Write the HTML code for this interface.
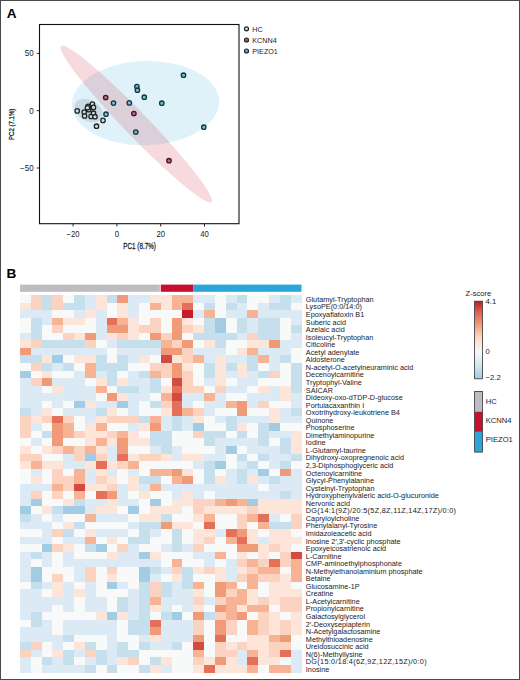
<!DOCTYPE html><html><head><meta charset="utf-8"><style>
html,body{margin:0;padding:0;background:#fff;}
body{width:520px;height:680px;overflow:hidden;position:relative;font-family:"Liberation Sans",sans-serif;}
#frame{position:absolute;left:0;top:0;width:520px;height:680px;box-sizing:border-box;border:1px solid #4a4a4a;}
svg{position:absolute;left:0;top:0;}
svg text{font-family:"Liberation Sans",sans-serif;fill:#1a1a1a;}
</style></head><body>
<svg width="520" height="680" viewBox="0 0 520 680">
<text x="6.8" y="18.1" style="font-size:13.6px;font-weight:bold;fill:#000">A</text>
<text x="6.5" y="278.4" style="font-size:13.6px;font-weight:bold;fill:#000">B</text>
<g>
<ellipse cx="145.6" cy="103.2" rx="73.6" ry="42.1" transform="rotate(-1.5 145.6 103.2)" fill="#2aa6dc" fill-opacity="0.15"/>
<ellipse cx="136.2" cy="124" rx="108.5" ry="12" transform="rotate(46.05 136.2 124)" fill="#c8102e" fill-opacity="0.155"/>
<ellipse cx="88.5" cy="110.5" rx="15" ry="10.5" transform="rotate(30 88.5 110.5)" fill="#6f7f84" fill-opacity="0.2"/>
<circle cx="77.2" cy="110.9" r="2.2" fill="#d8dade" stroke="#1f2327" stroke-width="1.3"/>
<circle cx="84.2" cy="112.1" r="2.2" fill="#d8dade" stroke="#1f2327" stroke-width="1.3"/>
<circle cx="84.6" cy="116" r="2.2" fill="#d8dade" stroke="#1f2327" stroke-width="1.3"/>
<circle cx="88.1" cy="106.3" r="2.2" fill="#d8dade" stroke="#1f2327" stroke-width="1.3"/>
<circle cx="88.7" cy="109.7" r="2.2" fill="#d8dade" stroke="#1f2327" stroke-width="1.3"/>
<circle cx="92.4" cy="104.1" r="2.2" fill="#d8dade" stroke="#1f2327" stroke-width="1.3"/>
<circle cx="93.5" cy="107.4" r="2.2" fill="#d8dade" stroke="#1f2327" stroke-width="1.3"/>
<circle cx="91.1" cy="116.4" r="2.2" fill="#d8dade" stroke="#1f2327" stroke-width="1.3"/>
<circle cx="93.5" cy="113.2" r="2.2" fill="#d8dade" stroke="#1f2327" stroke-width="1.3"/>
<circle cx="95" cy="116.7" r="2.2" fill="#d8dade" stroke="#1f2327" stroke-width="1.3"/>
<circle cx="103" cy="120.4" r="2.2" fill="#d8dade" stroke="#1f2327" stroke-width="1.3"/>
<circle cx="96.5" cy="126.2" r="2.2" fill="#d8dade" stroke="#1f2327" stroke-width="1.3"/>
<circle cx="87.5" cy="107.8" r="2.2" fill="#d8dade" stroke="#1f2327" stroke-width="1.3"/>
<circle cx="105.7" cy="97.5" r="2.2" fill="#c2687e" stroke="#3a1621" stroke-width="1.3"/>
<circle cx="133.9" cy="113.5" r="2.2" fill="#c2687e" stroke="#3a1621" stroke-width="1.3"/>
<circle cx="169.0" cy="160.7" r="2.2" fill="#c2687e" stroke="#3a1621" stroke-width="1.3"/>
<circle cx="113.5" cy="103.1" r="2.2" fill="#72c0d6" stroke="#15343e" stroke-width="1.3"/>
<circle cx="106.0" cy="114.2" r="2.2" fill="#72c0d6" stroke="#15343e" stroke-width="1.3"/>
<circle cx="129.3" cy="102.9" r="2.2" fill="#72c0d6" stroke="#15343e" stroke-width="1.3"/>
<circle cx="136.9" cy="86.5" r="2.2" fill="#72c0d6" stroke="#15343e" stroke-width="1.3"/>
<circle cx="137.4" cy="90.2" r="2.2" fill="#72c0d6" stroke="#15343e" stroke-width="1.3"/>
<circle cx="144.3" cy="97.2" r="2.2" fill="#72c0d6" stroke="#15343e" stroke-width="1.3"/>
<circle cx="161.8" cy="103.2" r="2.2" fill="#72c0d6" stroke="#15343e" stroke-width="1.3"/>
<circle cx="183.5" cy="75.2" r="2.2" fill="#72c0d6" stroke="#15343e" stroke-width="1.3"/>
<circle cx="203.8" cy="127.2" r="2.2" fill="#72c0d6" stroke="#15343e" stroke-width="1.3"/>
<circle cx="135.8" cy="132" r="2.2" fill="#72c0d6" stroke="#15343e" stroke-width="1.3"/>
<rect x="39.5" y="24.5" width="199.5" height="199.2" fill="none" stroke="#111" stroke-width="1.1"/>
<line x1="73.1" y1="223.7" x2="73.1" y2="226.5" stroke="#111" stroke-width="0.9"/>
<text transform="translate(73.1 237.0) scale(0.92 1)" text-anchor="middle" style="font-size:8.4px">−20</text>
<line x1="116.9" y1="223.7" x2="116.9" y2="226.5" stroke="#111" stroke-width="0.9"/>
<text transform="translate(116.9 237.0) scale(0.92 1)" text-anchor="middle" style="font-size:8.4px">0</text>
<line x1="160.7" y1="223.7" x2="160.7" y2="226.5" stroke="#111" stroke-width="0.9"/>
<text transform="translate(160.7 237.0) scale(0.92 1)" text-anchor="middle" style="font-size:8.4px">20</text>
<line x1="204.5" y1="223.7" x2="204.5" y2="226.5" stroke="#111" stroke-width="0.9"/>
<text transform="translate(204.5 237.0) scale(0.92 1)" text-anchor="middle" style="font-size:8.4px">40</text>
<line x1="36.8" y1="53.4" x2="39.5" y2="53.4" stroke="#111" stroke-width="0.9"/>
<text transform="translate(33.6 56.3) scale(0.95 1)" text-anchor="end" style="font-size:8.4px">50</text>
<line x1="36.8" y1="110.7" x2="39.5" y2="110.7" stroke="#111" stroke-width="0.9"/>
<text transform="translate(33.6 113.5) scale(0.95 1)" text-anchor="end" style="font-size:8.4px">0</text>
<line x1="36.8" y1="168.0" x2="39.5" y2="168.0" stroke="#111" stroke-width="0.9"/>
<text transform="translate(33.6 170.8) scale(0.95 1)" text-anchor="end" style="font-size:8.4px">−50</text>
<text transform="translate(139.6 249.2) scale(0.75 1)" text-anchor="middle" style="font-size:8.4px;stroke:#1a1a1a;stroke-width:0.25px">PC1 (8.7%)</text>
<text transform="translate(14.3 124.3) rotate(-90) scale(0.76 1)" text-anchor="middle" style="font-size:8.0px;stroke:#1a1a1a;stroke-width:0.25px">PC2 (7.1%)</text>
<circle cx="246.5" cy="28.8" r="2.0" fill="#dcdde0" stroke="#1b2326" stroke-width="1.2"/>
<text x="252.3" y="31.8" style="font-size:7.2px">HC</text>
<circle cx="246.5" cy="40.0" r="2.0" fill="#b8566c" stroke="#1b2326" stroke-width="1.2"/>
<text x="252.3" y="43.0" style="font-size:7.2px">KCNN4</text>
<circle cx="246.5" cy="51.0" r="2.0" fill="#5fb4cc" stroke="#1b2326" stroke-width="1.2"/>
<text x="252.3" y="54.0" style="font-size:7.2px">PIEZO1</text>
</g>
<rect x="20.0" y="284.6" width="139.85" height="7.2" fill="#bdbdc1"/>
<rect x="160.75" y="284.6" width="32.48" height="7.2" fill="#c8102e"/>
<rect x="193.23" y="284.6" width="108.27" height="7.2" fill="#2aa6dc"/>
<g shape-rendering="crispEdges">
<rect x="20.00" y="295.00" width="11.13" height="7.85" fill="#f8f9f9"/>
<rect x="30.83" y="295.00" width="11.13" height="7.85" fill="#fbd3c0"/>
<rect x="41.65" y="295.00" width="11.13" height="7.85" fill="#c5dfed"/>
<rect x="52.48" y="295.00" width="11.13" height="7.85" fill="#fbd3c0"/>
<rect x="63.31" y="295.00" width="11.13" height="7.85" fill="#f8f9f9"/>
<rect x="74.13" y="295.00" width="11.13" height="7.85" fill="#c5dfed"/>
<rect x="84.96" y="295.00" width="11.13" height="7.85" fill="#dbeaf4"/>
<rect x="95.79" y="295.00" width="11.13" height="7.85" fill="#fde5da"/>
<rect x="106.62" y="295.00" width="11.13" height="7.85" fill="#c5dfed"/>
<rect x="117.44" y="295.00" width="11.13" height="7.85" fill="#f19a78"/>
<rect x="128.27" y="295.00" width="11.13" height="7.85" fill="#dbeaf4"/>
<rect x="139.10" y="295.00" width="11.13" height="7.85" fill="#dbeaf4"/>
<rect x="149.92" y="295.00" width="11.13" height="7.85" fill="#fde5da"/>
<rect x="160.75" y="295.00" width="11.13" height="7.85" fill="#fde5da"/>
<rect x="171.58" y="295.00" width="11.13" height="7.85" fill="#f7b393"/>
<rect x="182.40" y="295.00" width="11.13" height="7.85" fill="#f7b393"/>
<rect x="193.23" y="295.00" width="11.13" height="7.85" fill="#dbeaf4"/>
<rect x="204.06" y="295.00" width="11.13" height="7.85" fill="#dbeaf4"/>
<rect x="214.88" y="295.00" width="11.13" height="7.85" fill="#f8f9f9"/>
<rect x="225.71" y="295.00" width="11.13" height="7.85" fill="#dbeaf4"/>
<rect x="236.54" y="295.00" width="11.13" height="7.85" fill="#c5dfed"/>
<rect x="247.37" y="295.00" width="11.13" height="7.85" fill="#f8f9f9"/>
<rect x="258.19" y="295.00" width="11.13" height="7.85" fill="#f8f9f9"/>
<rect x="269.02" y="295.00" width="11.13" height="7.85" fill="#dbeaf4"/>
<rect x="279.85" y="295.00" width="11.13" height="7.85" fill="#c5dfed"/>
<rect x="290.67" y="295.00" width="11.13" height="7.85" fill="#dbeaf4"/>
<rect x="20.00" y="302.55" width="11.13" height="7.85" fill="#fde5da"/>
<rect x="30.83" y="302.55" width="11.13" height="7.85" fill="#fbd3c0"/>
<rect x="41.65" y="302.55" width="11.13" height="7.85" fill="#c5dfed"/>
<rect x="52.48" y="302.55" width="11.13" height="7.85" fill="#fbd3c0"/>
<rect x="63.31" y="302.55" width="11.13" height="7.85" fill="#c5dfed"/>
<rect x="74.13" y="302.55" width="11.13" height="7.85" fill="#c5dfed"/>
<rect x="84.96" y="302.55" width="11.13" height="7.85" fill="#dbeaf4"/>
<rect x="95.79" y="302.55" width="11.13" height="7.85" fill="#fde5da"/>
<rect x="106.62" y="302.55" width="11.13" height="7.85" fill="#f8f9f9"/>
<rect x="117.44" y="302.55" width="11.13" height="7.85" fill="#fde5da"/>
<rect x="128.27" y="302.55" width="11.13" height="7.85" fill="#dbeaf4"/>
<rect x="139.10" y="302.55" width="11.13" height="7.85" fill="#f8f9f9"/>
<rect x="149.92" y="302.55" width="11.13" height="7.85" fill="#f7b393"/>
<rect x="160.75" y="302.55" width="11.13" height="7.85" fill="#fde5da"/>
<rect x="171.58" y="302.55" width="11.13" height="7.85" fill="#f7b393"/>
<rect x="182.40" y="302.55" width="11.13" height="7.85" fill="#e5705a"/>
<rect x="193.23" y="302.55" width="11.13" height="7.85" fill="#f8f9f9"/>
<rect x="204.06" y="302.55" width="11.13" height="7.85" fill="#c5dfed"/>
<rect x="214.88" y="302.55" width="11.13" height="7.85" fill="#f8f9f9"/>
<rect x="225.71" y="302.55" width="11.13" height="7.85" fill="#c5dfed"/>
<rect x="236.54" y="302.55" width="11.13" height="7.85" fill="#dbeaf4"/>
<rect x="247.37" y="302.55" width="11.13" height="7.85" fill="#f8f9f9"/>
<rect x="258.19" y="302.55" width="11.13" height="7.85" fill="#dbeaf4"/>
<rect x="269.02" y="302.55" width="11.13" height="7.85" fill="#c5dfed"/>
<rect x="279.85" y="302.55" width="11.13" height="7.85" fill="#c5dfed"/>
<rect x="290.67" y="302.55" width="11.13" height="7.85" fill="#f8f9f9"/>
<rect x="20.00" y="310.10" width="11.13" height="7.85" fill="#dbeaf4"/>
<rect x="30.83" y="310.10" width="11.13" height="7.85" fill="#dbeaf4"/>
<rect x="41.65" y="310.10" width="11.13" height="7.85" fill="#dbeaf4"/>
<rect x="52.48" y="310.10" width="11.13" height="7.85" fill="#f8f9f9"/>
<rect x="63.31" y="310.10" width="11.13" height="7.85" fill="#f8f9f9"/>
<rect x="74.13" y="310.10" width="11.13" height="7.85" fill="#dbeaf4"/>
<rect x="84.96" y="310.10" width="11.13" height="7.85" fill="#fde5da"/>
<rect x="95.79" y="310.10" width="11.13" height="7.85" fill="#dbeaf4"/>
<rect x="106.62" y="310.10" width="11.13" height="7.85" fill="#f8f9f9"/>
<rect x="117.44" y="310.10" width="11.13" height="7.85" fill="#fde5da"/>
<rect x="128.27" y="310.10" width="11.13" height="7.85" fill="#dbeaf4"/>
<rect x="139.10" y="310.10" width="11.13" height="7.85" fill="#f8f9f9"/>
<rect x="149.92" y="310.10" width="11.13" height="7.85" fill="#f8f9f9"/>
<rect x="160.75" y="310.10" width="11.13" height="7.85" fill="#f8f9f9"/>
<rect x="171.58" y="310.10" width="11.13" height="7.85" fill="#f8f9f9"/>
<rect x="182.40" y="310.10" width="11.13" height="7.85" fill="#c81b2b"/>
<rect x="193.23" y="310.10" width="11.13" height="7.85" fill="#dbeaf4"/>
<rect x="204.06" y="310.10" width="11.13" height="7.85" fill="#f7b393"/>
<rect x="214.88" y="310.10" width="11.13" height="7.85" fill="#f8f9f9"/>
<rect x="225.71" y="310.10" width="11.13" height="7.85" fill="#dbeaf4"/>
<rect x="236.54" y="310.10" width="11.13" height="7.85" fill="#dbeaf4"/>
<rect x="247.37" y="310.10" width="11.13" height="7.85" fill="#f7b393"/>
<rect x="258.19" y="310.10" width="11.13" height="7.85" fill="#dbeaf4"/>
<rect x="269.02" y="310.10" width="11.13" height="7.85" fill="#dbeaf4"/>
<rect x="279.85" y="310.10" width="11.13" height="7.85" fill="#dbeaf4"/>
<rect x="290.67" y="310.10" width="11.13" height="7.85" fill="#dbeaf4"/>
<rect x="20.00" y="317.65" width="11.13" height="7.85" fill="#f8f9f9"/>
<rect x="30.83" y="317.65" width="11.13" height="7.85" fill="#c5dfed"/>
<rect x="41.65" y="317.65" width="11.13" height="7.85" fill="#dbeaf4"/>
<rect x="52.48" y="317.65" width="11.13" height="7.85" fill="#f7b393"/>
<rect x="63.31" y="317.65" width="11.13" height="7.85" fill="#fde5da"/>
<rect x="74.13" y="317.65" width="11.13" height="7.85" fill="#fde5da"/>
<rect x="84.96" y="317.65" width="11.13" height="7.85" fill="#f8f9f9"/>
<rect x="95.79" y="317.65" width="11.13" height="7.85" fill="#dbeaf4"/>
<rect x="106.62" y="317.65" width="11.13" height="7.85" fill="#e5705a"/>
<rect x="117.44" y="317.65" width="11.13" height="7.85" fill="#f7b393"/>
<rect x="128.27" y="317.65" width="11.13" height="7.85" fill="#fde5da"/>
<rect x="139.10" y="317.65" width="11.13" height="7.85" fill="#f8f9f9"/>
<rect x="149.92" y="317.65" width="11.13" height="7.85" fill="#fbd3c0"/>
<rect x="160.75" y="317.65" width="11.13" height="7.85" fill="#f8f9f9"/>
<rect x="171.58" y="317.65" width="11.13" height="7.85" fill="#f19a78"/>
<rect x="182.40" y="317.65" width="11.13" height="7.85" fill="#fde5da"/>
<rect x="193.23" y="317.65" width="11.13" height="7.85" fill="#f8f9f9"/>
<rect x="204.06" y="317.65" width="11.13" height="7.85" fill="#c5dfed"/>
<rect x="214.88" y="317.65" width="11.13" height="7.85" fill="#a2cce3"/>
<rect x="225.71" y="317.65" width="11.13" height="7.85" fill="#f8f9f9"/>
<rect x="236.54" y="317.65" width="11.13" height="7.85" fill="#c5dfed"/>
<rect x="247.37" y="317.65" width="11.13" height="7.85" fill="#dbeaf4"/>
<rect x="258.19" y="317.65" width="11.13" height="7.85" fill="#c5dfed"/>
<rect x="269.02" y="317.65" width="11.13" height="7.85" fill="#c5dfed"/>
<rect x="279.85" y="317.65" width="11.13" height="7.85" fill="#f8f9f9"/>
<rect x="290.67" y="317.65" width="11.13" height="7.85" fill="#dbeaf4"/>
<rect x="20.00" y="325.20" width="11.13" height="7.85" fill="#f8f9f9"/>
<rect x="30.83" y="325.20" width="11.13" height="7.85" fill="#c5dfed"/>
<rect x="41.65" y="325.20" width="11.13" height="7.85" fill="#f8f9f9"/>
<rect x="52.48" y="325.20" width="11.13" height="7.85" fill="#fbd3c0"/>
<rect x="63.31" y="325.20" width="11.13" height="7.85" fill="#f8f9f9"/>
<rect x="74.13" y="325.20" width="11.13" height="7.85" fill="#f8f9f9"/>
<rect x="84.96" y="325.20" width="11.13" height="7.85" fill="#f8f9f9"/>
<rect x="95.79" y="325.20" width="11.13" height="7.85" fill="#dbeaf4"/>
<rect x="106.62" y="325.20" width="11.13" height="7.85" fill="#f19a78"/>
<rect x="117.44" y="325.20" width="11.13" height="7.85" fill="#f19a78"/>
<rect x="128.27" y="325.20" width="11.13" height="7.85" fill="#fde5da"/>
<rect x="139.10" y="325.20" width="11.13" height="7.85" fill="#fbd3c0"/>
<rect x="149.92" y="325.20" width="11.13" height="7.85" fill="#fbd3c0"/>
<rect x="160.75" y="325.20" width="11.13" height="7.85" fill="#f8f9f9"/>
<rect x="171.58" y="325.20" width="11.13" height="7.85" fill="#f19a78"/>
<rect x="182.40" y="325.20" width="11.13" height="7.85" fill="#fbd3c0"/>
<rect x="193.23" y="325.20" width="11.13" height="7.85" fill="#fde5da"/>
<rect x="204.06" y="325.20" width="11.13" height="7.85" fill="#c5dfed"/>
<rect x="214.88" y="325.20" width="11.13" height="7.85" fill="#a2cce3"/>
<rect x="225.71" y="325.20" width="11.13" height="7.85" fill="#f8f9f9"/>
<rect x="236.54" y="325.20" width="11.13" height="7.85" fill="#c5dfed"/>
<rect x="247.37" y="325.20" width="11.13" height="7.85" fill="#dbeaf4"/>
<rect x="258.19" y="325.20" width="11.13" height="7.85" fill="#c5dfed"/>
<rect x="269.02" y="325.20" width="11.13" height="7.85" fill="#c5dfed"/>
<rect x="279.85" y="325.20" width="11.13" height="7.85" fill="#f8f9f9"/>
<rect x="290.67" y="325.20" width="11.13" height="7.85" fill="#c5dfed"/>
<rect x="20.00" y="332.75" width="11.13" height="7.85" fill="#dbeaf4"/>
<rect x="30.83" y="332.75" width="11.13" height="7.85" fill="#c5dfed"/>
<rect x="41.65" y="332.75" width="11.13" height="7.85" fill="#f8f9f9"/>
<rect x="52.48" y="332.75" width="11.13" height="7.85" fill="#f8f9f9"/>
<rect x="63.31" y="332.75" width="11.13" height="7.85" fill="#fbd3c0"/>
<rect x="74.13" y="332.75" width="11.13" height="7.85" fill="#fde5da"/>
<rect x="84.96" y="332.75" width="11.13" height="7.85" fill="#f19a78"/>
<rect x="95.79" y="332.75" width="11.13" height="7.85" fill="#dbeaf4"/>
<rect x="106.62" y="332.75" width="11.13" height="7.85" fill="#fde5da"/>
<rect x="117.44" y="332.75" width="11.13" height="7.85" fill="#fbd3c0"/>
<rect x="128.27" y="332.75" width="11.13" height="7.85" fill="#fde5da"/>
<rect x="139.10" y="332.75" width="11.13" height="7.85" fill="#f8f9f9"/>
<rect x="149.92" y="332.75" width="11.13" height="7.85" fill="#f19a78"/>
<rect x="160.75" y="332.75" width="11.13" height="7.85" fill="#fbd3c0"/>
<rect x="171.58" y="332.75" width="11.13" height="7.85" fill="#f19a78"/>
<rect x="182.40" y="332.75" width="11.13" height="7.85" fill="#f8f9f9"/>
<rect x="193.23" y="332.75" width="11.13" height="7.85" fill="#c5dfed"/>
<rect x="204.06" y="332.75" width="11.13" height="7.85" fill="#c5dfed"/>
<rect x="214.88" y="332.75" width="11.13" height="7.85" fill="#c5dfed"/>
<rect x="225.71" y="332.75" width="11.13" height="7.85" fill="#c5dfed"/>
<rect x="236.54" y="332.75" width="11.13" height="7.85" fill="#dbeaf4"/>
<rect x="247.37" y="332.75" width="11.13" height="7.85" fill="#fbd3c0"/>
<rect x="258.19" y="332.75" width="11.13" height="7.85" fill="#c5dfed"/>
<rect x="269.02" y="332.75" width="11.13" height="7.85" fill="#c5dfed"/>
<rect x="279.85" y="332.75" width="11.13" height="7.85" fill="#f8f9f9"/>
<rect x="290.67" y="332.75" width="11.13" height="7.85" fill="#dbeaf4"/>
<rect x="20.00" y="340.30" width="11.13" height="7.85" fill="#fde5da"/>
<rect x="30.83" y="340.30" width="11.13" height="7.85" fill="#fbd3c0"/>
<rect x="41.65" y="340.30" width="11.13" height="7.85" fill="#c5dfed"/>
<rect x="52.48" y="340.30" width="11.13" height="7.85" fill="#c5dfed"/>
<rect x="63.31" y="340.30" width="11.13" height="7.85" fill="#c5dfed"/>
<rect x="74.13" y="340.30" width="11.13" height="7.85" fill="#c5dfed"/>
<rect x="84.96" y="340.30" width="11.13" height="7.85" fill="#fbd3c0"/>
<rect x="95.79" y="340.30" width="11.13" height="7.85" fill="#f8f9f9"/>
<rect x="106.62" y="340.30" width="11.13" height="7.85" fill="#dbeaf4"/>
<rect x="117.44" y="340.30" width="11.13" height="7.85" fill="#c5dfed"/>
<rect x="128.27" y="340.30" width="11.13" height="7.85" fill="#c5dfed"/>
<rect x="139.10" y="340.30" width="11.13" height="7.85" fill="#c5dfed"/>
<rect x="149.92" y="340.30" width="11.13" height="7.85" fill="#c5dfed"/>
<rect x="160.75" y="340.30" width="11.13" height="7.85" fill="#f7b393"/>
<rect x="171.58" y="340.30" width="11.13" height="7.85" fill="#fbd3c0"/>
<rect x="182.40" y="340.30" width="11.13" height="7.85" fill="#f19a78"/>
<rect x="193.23" y="340.30" width="11.13" height="7.85" fill="#f8f9f9"/>
<rect x="204.06" y="340.30" width="11.13" height="7.85" fill="#fde5da"/>
<rect x="214.88" y="340.30" width="11.13" height="7.85" fill="#c5dfed"/>
<rect x="225.71" y="340.30" width="11.13" height="7.85" fill="#f8f9f9"/>
<rect x="236.54" y="340.30" width="11.13" height="7.85" fill="#f8f9f9"/>
<rect x="247.37" y="340.30" width="11.13" height="7.85" fill="#fde5da"/>
<rect x="258.19" y="340.30" width="11.13" height="7.85" fill="#fde5da"/>
<rect x="269.02" y="340.30" width="11.13" height="7.85" fill="#f19a78"/>
<rect x="279.85" y="340.30" width="11.13" height="7.85" fill="#dbeaf4"/>
<rect x="290.67" y="340.30" width="11.13" height="7.85" fill="#dbeaf4"/>
<rect x="20.00" y="347.85" width="11.13" height="7.85" fill="#f19a78"/>
<rect x="30.83" y="347.85" width="11.13" height="7.85" fill="#dbeaf4"/>
<rect x="41.65" y="347.85" width="11.13" height="7.85" fill="#dbeaf4"/>
<rect x="52.48" y="347.85" width="11.13" height="7.85" fill="#dbeaf4"/>
<rect x="63.31" y="347.85" width="11.13" height="7.85" fill="#dbeaf4"/>
<rect x="74.13" y="347.85" width="11.13" height="7.85" fill="#dbeaf4"/>
<rect x="84.96" y="347.85" width="11.13" height="7.85" fill="#dbeaf4"/>
<rect x="95.79" y="347.85" width="11.13" height="7.85" fill="#dbeaf4"/>
<rect x="106.62" y="347.85" width="11.13" height="7.85" fill="#f8f9f9"/>
<rect x="117.44" y="347.85" width="11.13" height="7.85" fill="#dbeaf4"/>
<rect x="128.27" y="347.85" width="11.13" height="7.85" fill="#dbeaf4"/>
<rect x="139.10" y="347.85" width="11.13" height="7.85" fill="#dbeaf4"/>
<rect x="149.92" y="347.85" width="11.13" height="7.85" fill="#dbeaf4"/>
<rect x="160.75" y="347.85" width="11.13" height="7.85" fill="#f19a78"/>
<rect x="171.58" y="347.85" width="11.13" height="7.85" fill="#f19a78"/>
<rect x="182.40" y="347.85" width="11.13" height="7.85" fill="#fbd3c0"/>
<rect x="193.23" y="347.85" width="11.13" height="7.85" fill="#dbeaf4"/>
<rect x="204.06" y="347.85" width="11.13" height="7.85" fill="#dbeaf4"/>
<rect x="214.88" y="347.85" width="11.13" height="7.85" fill="#dbeaf4"/>
<rect x="225.71" y="347.85" width="11.13" height="7.85" fill="#f8f9f9"/>
<rect x="236.54" y="347.85" width="11.13" height="7.85" fill="#fde5da"/>
<rect x="247.37" y="347.85" width="11.13" height="7.85" fill="#f7b393"/>
<rect x="258.19" y="347.85" width="11.13" height="7.85" fill="#dbeaf4"/>
<rect x="269.02" y="347.85" width="11.13" height="7.85" fill="#dbeaf4"/>
<rect x="279.85" y="347.85" width="11.13" height="7.85" fill="#dbeaf4"/>
<rect x="290.67" y="347.85" width="11.13" height="7.85" fill="#f8f9f9"/>
<rect x="20.00" y="355.40" width="11.13" height="7.85" fill="#c5dfed"/>
<rect x="30.83" y="355.40" width="11.13" height="7.85" fill="#c5dfed"/>
<rect x="41.65" y="355.40" width="11.13" height="7.85" fill="#fde5da"/>
<rect x="52.48" y="355.40" width="11.13" height="7.85" fill="#a2cce3"/>
<rect x="63.31" y="355.40" width="11.13" height="7.85" fill="#f8f9f9"/>
<rect x="74.13" y="355.40" width="11.13" height="7.85" fill="#fde5da"/>
<rect x="84.96" y="355.40" width="11.13" height="7.85" fill="#fde5da"/>
<rect x="95.79" y="355.40" width="11.13" height="7.85" fill="#c5dfed"/>
<rect x="106.62" y="355.40" width="11.13" height="7.85" fill="#f8f9f9"/>
<rect x="117.44" y="355.40" width="11.13" height="7.85" fill="#c5dfed"/>
<rect x="128.27" y="355.40" width="11.13" height="7.85" fill="#dbeaf4"/>
<rect x="139.10" y="355.40" width="11.13" height="7.85" fill="#fde5da"/>
<rect x="149.92" y="355.40" width="11.13" height="7.85" fill="#f8f9f9"/>
<rect x="160.75" y="355.40" width="11.13" height="7.85" fill="#d24a42"/>
<rect x="171.58" y="355.40" width="11.13" height="7.85" fill="#fde5da"/>
<rect x="182.40" y="355.40" width="11.13" height="7.85" fill="#fbd3c0"/>
<rect x="193.23" y="355.40" width="11.13" height="7.85" fill="#f7b393"/>
<rect x="204.06" y="355.40" width="11.13" height="7.85" fill="#dbeaf4"/>
<rect x="214.88" y="355.40" width="11.13" height="7.85" fill="#fde5da"/>
<rect x="225.71" y="355.40" width="11.13" height="7.85" fill="#dbeaf4"/>
<rect x="236.54" y="355.40" width="11.13" height="7.85" fill="#dbeaf4"/>
<rect x="247.37" y="355.40" width="11.13" height="7.85" fill="#c5dfed"/>
<rect x="258.19" y="355.40" width="11.13" height="7.85" fill="#f7b393"/>
<rect x="269.02" y="355.40" width="11.13" height="7.85" fill="#dbeaf4"/>
<rect x="279.85" y="355.40" width="11.13" height="7.85" fill="#c5dfed"/>
<rect x="290.67" y="355.40" width="11.13" height="7.85" fill="#f8f9f9"/>
<rect x="20.00" y="362.95" width="11.13" height="7.85" fill="#f8f9f9"/>
<rect x="30.83" y="362.95" width="11.13" height="7.85" fill="#fbd3c0"/>
<rect x="41.65" y="362.95" width="11.13" height="7.85" fill="#c5dfed"/>
<rect x="52.48" y="362.95" width="11.13" height="7.85" fill="#dbeaf4"/>
<rect x="63.31" y="362.95" width="11.13" height="7.85" fill="#c5dfed"/>
<rect x="74.13" y="362.95" width="11.13" height="7.85" fill="#f8f9f9"/>
<rect x="84.96" y="362.95" width="11.13" height="7.85" fill="#f7b393"/>
<rect x="95.79" y="362.95" width="11.13" height="7.85" fill="#c5dfed"/>
<rect x="106.62" y="362.95" width="11.13" height="7.85" fill="#c5dfed"/>
<rect x="117.44" y="362.95" width="11.13" height="7.85" fill="#c5dfed"/>
<rect x="128.27" y="362.95" width="11.13" height="7.85" fill="#f8f9f9"/>
<rect x="139.10" y="362.95" width="11.13" height="7.85" fill="#f8f9f9"/>
<rect x="149.92" y="362.95" width="11.13" height="7.85" fill="#fbd3c0"/>
<rect x="160.75" y="362.95" width="11.13" height="7.85" fill="#fbd3c0"/>
<rect x="171.58" y="362.95" width="11.13" height="7.85" fill="#f19a78"/>
<rect x="182.40" y="362.95" width="11.13" height="7.85" fill="#fde5da"/>
<rect x="193.23" y="362.95" width="11.13" height="7.85" fill="#f8f9f9"/>
<rect x="204.06" y="362.95" width="11.13" height="7.85" fill="#c5dfed"/>
<rect x="214.88" y="362.95" width="11.13" height="7.85" fill="#fde5da"/>
<rect x="225.71" y="362.95" width="11.13" height="7.85" fill="#c5dfed"/>
<rect x="236.54" y="362.95" width="11.13" height="7.85" fill="#fde5da"/>
<rect x="247.37" y="362.95" width="11.13" height="7.85" fill="#c5dfed"/>
<rect x="258.19" y="362.95" width="11.13" height="7.85" fill="#f8f9f9"/>
<rect x="269.02" y="362.95" width="11.13" height="7.85" fill="#dbeaf4"/>
<rect x="279.85" y="362.95" width="11.13" height="7.85" fill="#f8f9f9"/>
<rect x="290.67" y="362.95" width="11.13" height="7.85" fill="#c5dfed"/>
<rect x="20.00" y="370.50" width="11.13" height="7.85" fill="#a2cce3"/>
<rect x="30.83" y="370.50" width="11.13" height="7.85" fill="#f8f9f9"/>
<rect x="41.65" y="370.50" width="11.13" height="7.85" fill="#fde5da"/>
<rect x="52.48" y="370.50" width="11.13" height="7.85" fill="#f8f9f9"/>
<rect x="63.31" y="370.50" width="11.13" height="7.85" fill="#f8f9f9"/>
<rect x="74.13" y="370.50" width="11.13" height="7.85" fill="#dbeaf4"/>
<rect x="84.96" y="370.50" width="11.13" height="7.85" fill="#f7b393"/>
<rect x="95.79" y="370.50" width="11.13" height="7.85" fill="#dbeaf4"/>
<rect x="106.62" y="370.50" width="11.13" height="7.85" fill="#c5dfed"/>
<rect x="117.44" y="370.50" width="11.13" height="7.85" fill="#f8f9f9"/>
<rect x="128.27" y="370.50" width="11.13" height="7.85" fill="#dbeaf4"/>
<rect x="139.10" y="370.50" width="11.13" height="7.85" fill="#c5dfed"/>
<rect x="149.92" y="370.50" width="11.13" height="7.85" fill="#f7b393"/>
<rect x="160.75" y="370.50" width="11.13" height="7.85" fill="#fbd3c0"/>
<rect x="171.58" y="370.50" width="11.13" height="7.85" fill="#f19a78"/>
<rect x="182.40" y="370.50" width="11.13" height="7.85" fill="#fbd3c0"/>
<rect x="193.23" y="370.50" width="11.13" height="7.85" fill="#f8f9f9"/>
<rect x="204.06" y="370.50" width="11.13" height="7.85" fill="#c5dfed"/>
<rect x="214.88" y="370.50" width="11.13" height="7.85" fill="#fde5da"/>
<rect x="225.71" y="370.50" width="11.13" height="7.85" fill="#dbeaf4"/>
<rect x="236.54" y="370.50" width="11.13" height="7.85" fill="#fde5da"/>
<rect x="247.37" y="370.50" width="11.13" height="7.85" fill="#dbeaf4"/>
<rect x="258.19" y="370.50" width="11.13" height="7.85" fill="#c5dfed"/>
<rect x="269.02" y="370.50" width="11.13" height="7.85" fill="#fbd3c0"/>
<rect x="279.85" y="370.50" width="11.13" height="7.85" fill="#f8f9f9"/>
<rect x="290.67" y="370.50" width="11.13" height="7.85" fill="#c5dfed"/>
<rect x="20.00" y="378.05" width="11.13" height="7.85" fill="#dbeaf4"/>
<rect x="30.83" y="378.05" width="11.13" height="7.85" fill="#fbd3c0"/>
<rect x="41.65" y="378.05" width="11.13" height="7.85" fill="#f19a78"/>
<rect x="52.48" y="378.05" width="11.13" height="7.85" fill="#dbeaf4"/>
<rect x="63.31" y="378.05" width="11.13" height="7.85" fill="#dbeaf4"/>
<rect x="74.13" y="378.05" width="11.13" height="7.85" fill="#dbeaf4"/>
<rect x="84.96" y="378.05" width="11.13" height="7.85" fill="#f8f9f9"/>
<rect x="95.79" y="378.05" width="11.13" height="7.85" fill="#fde5da"/>
<rect x="106.62" y="378.05" width="11.13" height="7.85" fill="#c5dfed"/>
<rect x="117.44" y="378.05" width="11.13" height="7.85" fill="#fde5da"/>
<rect x="128.27" y="378.05" width="11.13" height="7.85" fill="#dbeaf4"/>
<rect x="139.10" y="378.05" width="11.13" height="7.85" fill="#dbeaf4"/>
<rect x="149.92" y="378.05" width="11.13" height="7.85" fill="#c5dfed"/>
<rect x="160.75" y="378.05" width="11.13" height="7.85" fill="#f8f9f9"/>
<rect x="171.58" y="378.05" width="11.13" height="7.85" fill="#d24a42"/>
<rect x="182.40" y="378.05" width="11.13" height="7.85" fill="#fbd3c0"/>
<rect x="193.23" y="378.05" width="11.13" height="7.85" fill="#f8f9f9"/>
<rect x="204.06" y="378.05" width="11.13" height="7.85" fill="#dbeaf4"/>
<rect x="214.88" y="378.05" width="11.13" height="7.85" fill="#fde5da"/>
<rect x="225.71" y="378.05" width="11.13" height="7.85" fill="#f8f9f9"/>
<rect x="236.54" y="378.05" width="11.13" height="7.85" fill="#dbeaf4"/>
<rect x="247.37" y="378.05" width="11.13" height="7.85" fill="#dbeaf4"/>
<rect x="258.19" y="378.05" width="11.13" height="7.85" fill="#f8f9f9"/>
<rect x="269.02" y="378.05" width="11.13" height="7.85" fill="#f8f9f9"/>
<rect x="279.85" y="378.05" width="11.13" height="7.85" fill="#f8f9f9"/>
<rect x="290.67" y="378.05" width="11.13" height="7.85" fill="#c5dfed"/>
<rect x="20.00" y="385.60" width="11.13" height="7.85" fill="#dbeaf4"/>
<rect x="30.83" y="385.60" width="11.13" height="7.85" fill="#dbeaf4"/>
<rect x="41.65" y="385.60" width="11.13" height="7.85" fill="#f8f9f9"/>
<rect x="52.48" y="385.60" width="11.13" height="7.85" fill="#fde5da"/>
<rect x="63.31" y="385.60" width="11.13" height="7.85" fill="#dbeaf4"/>
<rect x="74.13" y="385.60" width="11.13" height="7.85" fill="#dbeaf4"/>
<rect x="84.96" y="385.60" width="11.13" height="7.85" fill="#dbeaf4"/>
<rect x="95.79" y="385.60" width="11.13" height="7.85" fill="#f7b393"/>
<rect x="106.62" y="385.60" width="11.13" height="7.85" fill="#f8f9f9"/>
<rect x="117.44" y="385.60" width="11.13" height="7.85" fill="#c5dfed"/>
<rect x="128.27" y="385.60" width="11.13" height="7.85" fill="#c5dfed"/>
<rect x="139.10" y="385.60" width="11.13" height="7.85" fill="#dbeaf4"/>
<rect x="149.92" y="385.60" width="11.13" height="7.85" fill="#c5dfed"/>
<rect x="160.75" y="385.60" width="11.13" height="7.85" fill="#fde5da"/>
<rect x="171.58" y="385.60" width="11.13" height="7.85" fill="#e5705a"/>
<rect x="182.40" y="385.60" width="11.13" height="7.85" fill="#fbd3c0"/>
<rect x="193.23" y="385.60" width="11.13" height="7.85" fill="#fbd3c0"/>
<rect x="204.06" y="385.60" width="11.13" height="7.85" fill="#f8f9f9"/>
<rect x="214.88" y="385.60" width="11.13" height="7.85" fill="#fbd3c0"/>
<rect x="225.71" y="385.60" width="11.13" height="7.85" fill="#dbeaf4"/>
<rect x="236.54" y="385.60" width="11.13" height="7.85" fill="#dbeaf4"/>
<rect x="247.37" y="385.60" width="11.13" height="7.85" fill="#f8f9f9"/>
<rect x="258.19" y="385.60" width="11.13" height="7.85" fill="#fde5da"/>
<rect x="269.02" y="385.60" width="11.13" height="7.85" fill="#dbeaf4"/>
<rect x="279.85" y="385.60" width="11.13" height="7.85" fill="#fde5da"/>
<rect x="290.67" y="385.60" width="11.13" height="7.85" fill="#c5dfed"/>
<rect x="20.00" y="393.15" width="11.13" height="7.85" fill="#dbeaf4"/>
<rect x="30.83" y="393.15" width="11.13" height="7.85" fill="#dbeaf4"/>
<rect x="41.65" y="393.15" width="11.13" height="7.85" fill="#dbeaf4"/>
<rect x="52.48" y="393.15" width="11.13" height="7.85" fill="#dbeaf4"/>
<rect x="63.31" y="393.15" width="11.13" height="7.85" fill="#dbeaf4"/>
<rect x="74.13" y="393.15" width="11.13" height="7.85" fill="#dbeaf4"/>
<rect x="84.96" y="393.15" width="11.13" height="7.85" fill="#dbeaf4"/>
<rect x="95.79" y="393.15" width="11.13" height="7.85" fill="#f8f9f9"/>
<rect x="106.62" y="393.15" width="11.13" height="7.85" fill="#f19a78"/>
<rect x="117.44" y="393.15" width="11.13" height="7.85" fill="#fde5da"/>
<rect x="128.27" y="393.15" width="11.13" height="7.85" fill="#dbeaf4"/>
<rect x="139.10" y="393.15" width="11.13" height="7.85" fill="#dbeaf4"/>
<rect x="149.92" y="393.15" width="11.13" height="7.85" fill="#f8f9f9"/>
<rect x="160.75" y="393.15" width="11.13" height="7.85" fill="#f7b393"/>
<rect x="171.58" y="393.15" width="11.13" height="7.85" fill="#d24a42"/>
<rect x="182.40" y="393.15" width="11.13" height="7.85" fill="#dbeaf4"/>
<rect x="193.23" y="393.15" width="11.13" height="7.85" fill="#dbeaf4"/>
<rect x="204.06" y="393.15" width="11.13" height="7.85" fill="#f7b393"/>
<rect x="214.88" y="393.15" width="11.13" height="7.85" fill="#dbeaf4"/>
<rect x="225.71" y="393.15" width="11.13" height="7.85" fill="#f8f9f9"/>
<rect x="236.54" y="393.15" width="11.13" height="7.85" fill="#f8f9f9"/>
<rect x="247.37" y="393.15" width="11.13" height="7.85" fill="#dbeaf4"/>
<rect x="258.19" y="393.15" width="11.13" height="7.85" fill="#dbeaf4"/>
<rect x="269.02" y="393.15" width="11.13" height="7.85" fill="#dbeaf4"/>
<rect x="279.85" y="393.15" width="11.13" height="7.85" fill="#fde5da"/>
<rect x="290.67" y="393.15" width="11.13" height="7.85" fill="#dbeaf4"/>
<rect x="20.00" y="400.70" width="11.13" height="7.85" fill="#dbeaf4"/>
<rect x="30.83" y="400.70" width="11.13" height="7.85" fill="#dbeaf4"/>
<rect x="41.65" y="400.70" width="11.13" height="7.85" fill="#f8f9f9"/>
<rect x="52.48" y="400.70" width="11.13" height="7.85" fill="#dbeaf4"/>
<rect x="63.31" y="400.70" width="11.13" height="7.85" fill="#f8f9f9"/>
<rect x="74.13" y="400.70" width="11.13" height="7.85" fill="#a2cce3"/>
<rect x="84.96" y="400.70" width="11.13" height="7.85" fill="#fde5da"/>
<rect x="95.79" y="400.70" width="11.13" height="7.85" fill="#dbeaf4"/>
<rect x="106.62" y="400.70" width="11.13" height="7.85" fill="#dbeaf4"/>
<rect x="117.44" y="400.70" width="11.13" height="7.85" fill="#a2cce3"/>
<rect x="128.27" y="400.70" width="11.13" height="7.85" fill="#dbeaf4"/>
<rect x="139.10" y="400.70" width="11.13" height="7.85" fill="#f8f9f9"/>
<rect x="149.92" y="400.70" width="11.13" height="7.85" fill="#c5dfed"/>
<rect x="160.75" y="400.70" width="11.13" height="7.85" fill="#fbd3c0"/>
<rect x="171.58" y="400.70" width="11.13" height="7.85" fill="#e5705a"/>
<rect x="182.40" y="400.70" width="11.13" height="7.85" fill="#dbeaf4"/>
<rect x="193.23" y="400.70" width="11.13" height="7.85" fill="#f8f9f9"/>
<rect x="204.06" y="400.70" width="11.13" height="7.85" fill="#dbeaf4"/>
<rect x="214.88" y="400.70" width="11.13" height="7.85" fill="#dbeaf4"/>
<rect x="225.71" y="400.70" width="11.13" height="7.85" fill="#f7b393"/>
<rect x="236.54" y="400.70" width="11.13" height="7.85" fill="#f19a78"/>
<rect x="247.37" y="400.70" width="11.13" height="7.85" fill="#dbeaf4"/>
<rect x="258.19" y="400.70" width="11.13" height="7.85" fill="#fbd3c0"/>
<rect x="269.02" y="400.70" width="11.13" height="7.85" fill="#f8f9f9"/>
<rect x="279.85" y="400.70" width="11.13" height="7.85" fill="#f8f9f9"/>
<rect x="290.67" y="400.70" width="11.13" height="7.85" fill="#dbeaf4"/>
<rect x="20.00" y="408.25" width="11.13" height="7.85" fill="#c5dfed"/>
<rect x="30.83" y="408.25" width="11.13" height="7.85" fill="#dbeaf4"/>
<rect x="41.65" y="408.25" width="11.13" height="7.85" fill="#fde5da"/>
<rect x="52.48" y="408.25" width="11.13" height="7.85" fill="#f8f9f9"/>
<rect x="63.31" y="408.25" width="11.13" height="7.85" fill="#dbeaf4"/>
<rect x="74.13" y="408.25" width="11.13" height="7.85" fill="#dbeaf4"/>
<rect x="84.96" y="408.25" width="11.13" height="7.85" fill="#dbeaf4"/>
<rect x="95.79" y="408.25" width="11.13" height="7.85" fill="#c5dfed"/>
<rect x="106.62" y="408.25" width="11.13" height="7.85" fill="#fde5da"/>
<rect x="117.44" y="408.25" width="11.13" height="7.85" fill="#f8f9f9"/>
<rect x="128.27" y="408.25" width="11.13" height="7.85" fill="#dbeaf4"/>
<rect x="139.10" y="408.25" width="11.13" height="7.85" fill="#f8f9f9"/>
<rect x="149.92" y="408.25" width="11.13" height="7.85" fill="#f8f9f9"/>
<rect x="160.75" y="408.25" width="11.13" height="7.85" fill="#fde5da"/>
<rect x="171.58" y="408.25" width="11.13" height="7.85" fill="#e5705a"/>
<rect x="182.40" y="408.25" width="11.13" height="7.85" fill="#f7b393"/>
<rect x="193.23" y="408.25" width="11.13" height="7.85" fill="#fbd3c0"/>
<rect x="204.06" y="408.25" width="11.13" height="7.85" fill="#dbeaf4"/>
<rect x="214.88" y="408.25" width="11.13" height="7.85" fill="#f8f9f9"/>
<rect x="225.71" y="408.25" width="11.13" height="7.85" fill="#f8f9f9"/>
<rect x="236.54" y="408.25" width="11.13" height="7.85" fill="#f19a78"/>
<rect x="247.37" y="408.25" width="11.13" height="7.85" fill="#f8f9f9"/>
<rect x="258.19" y="408.25" width="11.13" height="7.85" fill="#f8f9f9"/>
<rect x="269.02" y="408.25" width="11.13" height="7.85" fill="#fde5da"/>
<rect x="279.85" y="408.25" width="11.13" height="7.85" fill="#dbeaf4"/>
<rect x="290.67" y="408.25" width="11.13" height="7.85" fill="#c5dfed"/>
<rect x="20.00" y="415.80" width="11.13" height="7.85" fill="#fbd3c0"/>
<rect x="30.83" y="415.80" width="11.13" height="7.85" fill="#fde5da"/>
<rect x="41.65" y="415.80" width="11.13" height="7.85" fill="#fbd3c0"/>
<rect x="52.48" y="415.80" width="11.13" height="7.85" fill="#e5705a"/>
<rect x="63.31" y="415.80" width="11.13" height="7.85" fill="#fbd3c0"/>
<rect x="74.13" y="415.80" width="11.13" height="7.85" fill="#f8f9f9"/>
<rect x="84.96" y="415.80" width="11.13" height="7.85" fill="#dbeaf4"/>
<rect x="95.79" y="415.80" width="11.13" height="7.85" fill="#fde5da"/>
<rect x="106.62" y="415.80" width="11.13" height="7.85" fill="#fbd3c0"/>
<rect x="117.44" y="415.80" width="11.13" height="7.85" fill="#fbd3c0"/>
<rect x="128.27" y="415.80" width="11.13" height="7.85" fill="#fbd3c0"/>
<rect x="139.10" y="415.80" width="11.13" height="7.85" fill="#c5dfed"/>
<rect x="149.92" y="415.80" width="11.13" height="7.85" fill="#f7b393"/>
<rect x="160.75" y="415.80" width="11.13" height="7.85" fill="#dbeaf4"/>
<rect x="171.58" y="415.80" width="11.13" height="7.85" fill="#c5dfed"/>
<rect x="182.40" y="415.80" width="11.13" height="7.85" fill="#dbeaf4"/>
<rect x="193.23" y="415.80" width="11.13" height="7.85" fill="#fde5da"/>
<rect x="204.06" y="415.80" width="11.13" height="7.85" fill="#f8f9f9"/>
<rect x="214.88" y="415.80" width="11.13" height="7.85" fill="#dbeaf4"/>
<rect x="225.71" y="415.80" width="11.13" height="7.85" fill="#c5dfed"/>
<rect x="236.54" y="415.80" width="11.13" height="7.85" fill="#dbeaf4"/>
<rect x="247.37" y="415.80" width="11.13" height="7.85" fill="#dbeaf4"/>
<rect x="258.19" y="415.80" width="11.13" height="7.85" fill="#dbeaf4"/>
<rect x="269.02" y="415.80" width="11.13" height="7.85" fill="#fde5da"/>
<rect x="279.85" y="415.80" width="11.13" height="7.85" fill="#dbeaf4"/>
<rect x="290.67" y="415.80" width="11.13" height="7.85" fill="#dbeaf4"/>
<rect x="20.00" y="423.35" width="11.13" height="7.85" fill="#fbd3c0"/>
<rect x="30.83" y="423.35" width="11.13" height="7.85" fill="#dbeaf4"/>
<rect x="41.65" y="423.35" width="11.13" height="7.85" fill="#f8f9f9"/>
<rect x="52.48" y="423.35" width="11.13" height="7.85" fill="#f19a78"/>
<rect x="63.31" y="423.35" width="11.13" height="7.85" fill="#f7b393"/>
<rect x="74.13" y="423.35" width="11.13" height="7.85" fill="#f8f9f9"/>
<rect x="84.96" y="423.35" width="11.13" height="7.85" fill="#fde5da"/>
<rect x="95.79" y="423.35" width="11.13" height="7.85" fill="#f7b393"/>
<rect x="106.62" y="423.35" width="11.13" height="7.85" fill="#f8f9f9"/>
<rect x="117.44" y="423.35" width="11.13" height="7.85" fill="#f8f9f9"/>
<rect x="128.27" y="423.35" width="11.13" height="7.85" fill="#dbeaf4"/>
<rect x="139.10" y="423.35" width="11.13" height="7.85" fill="#fde5da"/>
<rect x="149.92" y="423.35" width="11.13" height="7.85" fill="#f19a78"/>
<rect x="160.75" y="423.35" width="11.13" height="7.85" fill="#dbeaf4"/>
<rect x="171.58" y="423.35" width="11.13" height="7.85" fill="#c5dfed"/>
<rect x="182.40" y="423.35" width="11.13" height="7.85" fill="#dbeaf4"/>
<rect x="193.23" y="423.35" width="11.13" height="7.85" fill="#a2cce3"/>
<rect x="204.06" y="423.35" width="11.13" height="7.85" fill="#f8f9f9"/>
<rect x="214.88" y="423.35" width="11.13" height="7.85" fill="#f8f9f9"/>
<rect x="225.71" y="423.35" width="11.13" height="7.85" fill="#c5dfed"/>
<rect x="236.54" y="423.35" width="11.13" height="7.85" fill="#fde5da"/>
<rect x="247.37" y="423.35" width="11.13" height="7.85" fill="#f8f9f9"/>
<rect x="258.19" y="423.35" width="11.13" height="7.85" fill="#c5dfed"/>
<rect x="269.02" y="423.35" width="11.13" height="7.85" fill="#a2cce3"/>
<rect x="279.85" y="423.35" width="11.13" height="7.85" fill="#f8f9f9"/>
<rect x="290.67" y="423.35" width="11.13" height="7.85" fill="#f8f9f9"/>
<rect x="20.00" y="430.90" width="11.13" height="7.85" fill="#fbd3c0"/>
<rect x="30.83" y="430.90" width="11.13" height="7.85" fill="#f8f9f9"/>
<rect x="41.65" y="430.90" width="11.13" height="7.85" fill="#c5dfed"/>
<rect x="52.48" y="430.90" width="11.13" height="7.85" fill="#f19a78"/>
<rect x="63.31" y="430.90" width="11.13" height="7.85" fill="#f7b393"/>
<rect x="74.13" y="430.90" width="11.13" height="7.85" fill="#fbd3c0"/>
<rect x="84.96" y="430.90" width="11.13" height="7.85" fill="#fde5da"/>
<rect x="95.79" y="430.90" width="11.13" height="7.85" fill="#fde5da"/>
<rect x="106.62" y="430.90" width="11.13" height="7.85" fill="#fbd3c0"/>
<rect x="117.44" y="430.90" width="11.13" height="7.85" fill="#f7b393"/>
<rect x="128.27" y="430.90" width="11.13" height="7.85" fill="#fde5da"/>
<rect x="139.10" y="430.90" width="11.13" height="7.85" fill="#f8f9f9"/>
<rect x="149.92" y="430.90" width="11.13" height="7.85" fill="#c5dfed"/>
<rect x="160.75" y="430.90" width="11.13" height="7.85" fill="#c5dfed"/>
<rect x="171.58" y="430.90" width="11.13" height="7.85" fill="#f8f9f9"/>
<rect x="182.40" y="430.90" width="11.13" height="7.85" fill="#f8f9f9"/>
<rect x="193.23" y="430.90" width="11.13" height="7.85" fill="#fbd3c0"/>
<rect x="204.06" y="430.90" width="11.13" height="7.85" fill="#c5dfed"/>
<rect x="214.88" y="430.90" width="11.13" height="7.85" fill="#c5dfed"/>
<rect x="225.71" y="430.90" width="11.13" height="7.85" fill="#f8f9f9"/>
<rect x="236.54" y="430.90" width="11.13" height="7.85" fill="#c5dfed"/>
<rect x="247.37" y="430.90" width="11.13" height="7.85" fill="#f8f9f9"/>
<rect x="258.19" y="430.90" width="11.13" height="7.85" fill="#c5dfed"/>
<rect x="269.02" y="430.90" width="11.13" height="7.85" fill="#dbeaf4"/>
<rect x="279.85" y="430.90" width="11.13" height="7.85" fill="#dbeaf4"/>
<rect x="290.67" y="430.90" width="11.13" height="7.85" fill="#fde5da"/>
<rect x="20.00" y="438.45" width="11.13" height="7.85" fill="#f8f9f9"/>
<rect x="30.83" y="438.45" width="11.13" height="7.85" fill="#dbeaf4"/>
<rect x="41.65" y="438.45" width="11.13" height="7.85" fill="#f8f9f9"/>
<rect x="52.48" y="438.45" width="11.13" height="7.85" fill="#f19a78"/>
<rect x="63.31" y="438.45" width="11.13" height="7.85" fill="#f8f9f9"/>
<rect x="74.13" y="438.45" width="11.13" height="7.85" fill="#f8f9f9"/>
<rect x="84.96" y="438.45" width="11.13" height="7.85" fill="#fde5da"/>
<rect x="95.79" y="438.45" width="11.13" height="7.85" fill="#f7b393"/>
<rect x="106.62" y="438.45" width="11.13" height="7.85" fill="#fde5da"/>
<rect x="117.44" y="438.45" width="11.13" height="7.85" fill="#f19a78"/>
<rect x="128.27" y="438.45" width="11.13" height="7.85" fill="#fde5da"/>
<rect x="139.10" y="438.45" width="11.13" height="7.85" fill="#fde5da"/>
<rect x="149.92" y="438.45" width="11.13" height="7.85" fill="#c5dfed"/>
<rect x="160.75" y="438.45" width="11.13" height="7.85" fill="#c5dfed"/>
<rect x="171.58" y="438.45" width="11.13" height="7.85" fill="#f8f9f9"/>
<rect x="182.40" y="438.45" width="11.13" height="7.85" fill="#f8f9f9"/>
<rect x="193.23" y="438.45" width="11.13" height="7.85" fill="#f8f9f9"/>
<rect x="204.06" y="438.45" width="11.13" height="7.85" fill="#c5dfed"/>
<rect x="214.88" y="438.45" width="11.13" height="7.85" fill="#dbeaf4"/>
<rect x="225.71" y="438.45" width="11.13" height="7.85" fill="#dbeaf4"/>
<rect x="236.54" y="438.45" width="11.13" height="7.85" fill="#dbeaf4"/>
<rect x="247.37" y="438.45" width="11.13" height="7.85" fill="#dbeaf4"/>
<rect x="258.19" y="438.45" width="11.13" height="7.85" fill="#c5dfed"/>
<rect x="269.02" y="438.45" width="11.13" height="7.85" fill="#f8f9f9"/>
<rect x="279.85" y="438.45" width="11.13" height="7.85" fill="#c5dfed"/>
<rect x="290.67" y="438.45" width="11.13" height="7.85" fill="#fde5da"/>
<rect x="20.00" y="446.00" width="11.13" height="7.85" fill="#fde5da"/>
<rect x="30.83" y="446.00" width="11.13" height="7.85" fill="#f8f9f9"/>
<rect x="41.65" y="446.00" width="11.13" height="7.85" fill="#fde5da"/>
<rect x="52.48" y="446.00" width="11.13" height="7.85" fill="#fbd3c0"/>
<rect x="63.31" y="446.00" width="11.13" height="7.85" fill="#f7b393"/>
<rect x="74.13" y="446.00" width="11.13" height="7.85" fill="#fbd3c0"/>
<rect x="84.96" y="446.00" width="11.13" height="7.85" fill="#f7b393"/>
<rect x="95.79" y="446.00" width="11.13" height="7.85" fill="#fde5da"/>
<rect x="106.62" y="446.00" width="11.13" height="7.85" fill="#dbeaf4"/>
<rect x="117.44" y="446.00" width="11.13" height="7.85" fill="#f19a78"/>
<rect x="128.27" y="446.00" width="11.13" height="7.85" fill="#f8f9f9"/>
<rect x="139.10" y="446.00" width="11.13" height="7.85" fill="#f8f9f9"/>
<rect x="149.92" y="446.00" width="11.13" height="7.85" fill="#dbeaf4"/>
<rect x="160.75" y="446.00" width="11.13" height="7.85" fill="#c5dfed"/>
<rect x="171.58" y="446.00" width="11.13" height="7.85" fill="#dbeaf4"/>
<rect x="182.40" y="446.00" width="11.13" height="7.85" fill="#f8f9f9"/>
<rect x="193.23" y="446.00" width="11.13" height="7.85" fill="#f8f9f9"/>
<rect x="204.06" y="446.00" width="11.13" height="7.85" fill="#f8f9f9"/>
<rect x="214.88" y="446.00" width="11.13" height="7.85" fill="#dbeaf4"/>
<rect x="225.71" y="446.00" width="11.13" height="7.85" fill="#a2cce3"/>
<rect x="236.54" y="446.00" width="11.13" height="7.85" fill="#f8f9f9"/>
<rect x="247.37" y="446.00" width="11.13" height="7.85" fill="#dbeaf4"/>
<rect x="258.19" y="446.00" width="11.13" height="7.85" fill="#dbeaf4"/>
<rect x="269.02" y="446.00" width="11.13" height="7.85" fill="#dbeaf4"/>
<rect x="279.85" y="446.00" width="11.13" height="7.85" fill="#c5dfed"/>
<rect x="290.67" y="446.00" width="11.13" height="7.85" fill="#fde5da"/>
<rect x="20.00" y="453.55" width="11.13" height="7.85" fill="#fbd3c0"/>
<rect x="30.83" y="453.55" width="11.13" height="7.85" fill="#fbd3c0"/>
<rect x="41.65" y="453.55" width="11.13" height="7.85" fill="#f8f9f9"/>
<rect x="52.48" y="453.55" width="11.13" height="7.85" fill="#f8f9f9"/>
<rect x="63.31" y="453.55" width="11.13" height="7.85" fill="#dbeaf4"/>
<rect x="74.13" y="453.55" width="11.13" height="7.85" fill="#fbd3c0"/>
<rect x="84.96" y="453.55" width="11.13" height="7.85" fill="#a2cce3"/>
<rect x="95.79" y="453.55" width="11.13" height="7.85" fill="#fbd3c0"/>
<rect x="106.62" y="453.55" width="11.13" height="7.85" fill="#dbeaf4"/>
<rect x="117.44" y="453.55" width="11.13" height="7.85" fill="#e5705a"/>
<rect x="128.27" y="453.55" width="11.13" height="7.85" fill="#fde5da"/>
<rect x="139.10" y="453.55" width="11.13" height="7.85" fill="#fbd3c0"/>
<rect x="149.92" y="453.55" width="11.13" height="7.85" fill="#fbd3c0"/>
<rect x="160.75" y="453.55" width="11.13" height="7.85" fill="#fde5da"/>
<rect x="171.58" y="453.55" width="11.13" height="7.85" fill="#dbeaf4"/>
<rect x="182.40" y="453.55" width="11.13" height="7.85" fill="#fde5da"/>
<rect x="193.23" y="453.55" width="11.13" height="7.85" fill="#fde5da"/>
<rect x="204.06" y="453.55" width="11.13" height="7.85" fill="#dbeaf4"/>
<rect x="214.88" y="453.55" width="11.13" height="7.85" fill="#dbeaf4"/>
<rect x="225.71" y="453.55" width="11.13" height="7.85" fill="#f8f9f9"/>
<rect x="236.54" y="453.55" width="11.13" height="7.85" fill="#c5dfed"/>
<rect x="247.37" y="453.55" width="11.13" height="7.85" fill="#f8f9f9"/>
<rect x="258.19" y="453.55" width="11.13" height="7.85" fill="#c5dfed"/>
<rect x="269.02" y="453.55" width="11.13" height="7.85" fill="#dbeaf4"/>
<rect x="279.85" y="453.55" width="11.13" height="7.85" fill="#dbeaf4"/>
<rect x="290.67" y="453.55" width="11.13" height="7.85" fill="#c5dfed"/>
<rect x="20.00" y="461.10" width="11.13" height="7.85" fill="#fde5da"/>
<rect x="30.83" y="461.10" width="11.13" height="7.85" fill="#f7b393"/>
<rect x="41.65" y="461.10" width="11.13" height="7.85" fill="#fde5da"/>
<rect x="52.48" y="461.10" width="11.13" height="7.85" fill="#fde5da"/>
<rect x="63.31" y="461.10" width="11.13" height="7.85" fill="#dbeaf4"/>
<rect x="74.13" y="461.10" width="11.13" height="7.85" fill="#dbeaf4"/>
<rect x="84.96" y="461.10" width="11.13" height="7.85" fill="#fde5da"/>
<rect x="95.79" y="461.10" width="11.13" height="7.85" fill="#e5705a"/>
<rect x="106.62" y="461.10" width="11.13" height="7.85" fill="#fde5da"/>
<rect x="117.44" y="461.10" width="11.13" height="7.85" fill="#fbd3c0"/>
<rect x="128.27" y="461.10" width="11.13" height="7.85" fill="#f7b393"/>
<rect x="139.10" y="461.10" width="11.13" height="7.85" fill="#f8f9f9"/>
<rect x="149.92" y="461.10" width="11.13" height="7.85" fill="#f8f9f9"/>
<rect x="160.75" y="461.10" width="11.13" height="7.85" fill="#f8f9f9"/>
<rect x="171.58" y="461.10" width="11.13" height="7.85" fill="#f8f9f9"/>
<rect x="182.40" y="461.10" width="11.13" height="7.85" fill="#f8f9f9"/>
<rect x="193.23" y="461.10" width="11.13" height="7.85" fill="#dbeaf4"/>
<rect x="204.06" y="461.10" width="11.13" height="7.85" fill="#c5dfed"/>
<rect x="214.88" y="461.10" width="11.13" height="7.85" fill="#a2cce3"/>
<rect x="225.71" y="461.10" width="11.13" height="7.85" fill="#f8f9f9"/>
<rect x="236.54" y="461.10" width="11.13" height="7.85" fill="#dbeaf4"/>
<rect x="247.37" y="461.10" width="11.13" height="7.85" fill="#c5dfed"/>
<rect x="258.19" y="461.10" width="11.13" height="7.85" fill="#f8f9f9"/>
<rect x="269.02" y="461.10" width="11.13" height="7.85" fill="#dbeaf4"/>
<rect x="279.85" y="461.10" width="11.13" height="7.85" fill="#c5dfed"/>
<rect x="290.67" y="461.10" width="11.13" height="7.85" fill="#f8f9f9"/>
<rect x="20.00" y="468.65" width="11.13" height="7.85" fill="#f8f9f9"/>
<rect x="30.83" y="468.65" width="11.13" height="7.85" fill="#dbeaf4"/>
<rect x="41.65" y="468.65" width="11.13" height="7.85" fill="#f8f9f9"/>
<rect x="52.48" y="468.65" width="11.13" height="7.85" fill="#fbd3c0"/>
<rect x="63.31" y="468.65" width="11.13" height="7.85" fill="#f8f9f9"/>
<rect x="74.13" y="468.65" width="11.13" height="7.85" fill="#f7b393"/>
<rect x="84.96" y="468.65" width="11.13" height="7.85" fill="#dbeaf4"/>
<rect x="95.79" y="468.65" width="11.13" height="7.85" fill="#fde5da"/>
<rect x="106.62" y="468.65" width="11.13" height="7.85" fill="#dbeaf4"/>
<rect x="117.44" y="468.65" width="11.13" height="7.85" fill="#f8f9f9"/>
<rect x="128.27" y="468.65" width="11.13" height="7.85" fill="#dbeaf4"/>
<rect x="139.10" y="468.65" width="11.13" height="7.85" fill="#f8f9f9"/>
<rect x="149.92" y="468.65" width="11.13" height="7.85" fill="#f7b393"/>
<rect x="160.75" y="468.65" width="11.13" height="7.85" fill="#f7b393"/>
<rect x="171.58" y="468.65" width="11.13" height="7.85" fill="#f19a78"/>
<rect x="182.40" y="468.65" width="11.13" height="7.85" fill="#fde5da"/>
<rect x="193.23" y="468.65" width="11.13" height="7.85" fill="#f8f9f9"/>
<rect x="204.06" y="468.65" width="11.13" height="7.85" fill="#c5dfed"/>
<rect x="214.88" y="468.65" width="11.13" height="7.85" fill="#f8f9f9"/>
<rect x="225.71" y="468.65" width="11.13" height="7.85" fill="#dbeaf4"/>
<rect x="236.54" y="468.65" width="11.13" height="7.85" fill="#c5dfed"/>
<rect x="247.37" y="468.65" width="11.13" height="7.85" fill="#dbeaf4"/>
<rect x="258.19" y="468.65" width="11.13" height="7.85" fill="#a2cce3"/>
<rect x="269.02" y="468.65" width="11.13" height="7.85" fill="#f8f9f9"/>
<rect x="279.85" y="468.65" width="11.13" height="7.85" fill="#f19a78"/>
<rect x="290.67" y="468.65" width="11.13" height="7.85" fill="#dbeaf4"/>
<rect x="20.00" y="476.20" width="11.13" height="7.85" fill="#f8f9f9"/>
<rect x="30.83" y="476.20" width="11.13" height="7.85" fill="#fde5da"/>
<rect x="41.65" y="476.20" width="11.13" height="7.85" fill="#f8f9f9"/>
<rect x="52.48" y="476.20" width="11.13" height="7.85" fill="#fbd3c0"/>
<rect x="63.31" y="476.20" width="11.13" height="7.85" fill="#fbd3c0"/>
<rect x="74.13" y="476.20" width="11.13" height="7.85" fill="#f7b393"/>
<rect x="84.96" y="476.20" width="11.13" height="7.85" fill="#dbeaf4"/>
<rect x="95.79" y="476.20" width="11.13" height="7.85" fill="#fbd3c0"/>
<rect x="106.62" y="476.20" width="11.13" height="7.85" fill="#fde5da"/>
<rect x="117.44" y="476.20" width="11.13" height="7.85" fill="#f8f9f9"/>
<rect x="128.27" y="476.20" width="11.13" height="7.85" fill="#fde5da"/>
<rect x="139.10" y="476.20" width="11.13" height="7.85" fill="#c5dfed"/>
<rect x="149.92" y="476.20" width="11.13" height="7.85" fill="#c5dfed"/>
<rect x="160.75" y="476.20" width="11.13" height="7.85" fill="#f8f9f9"/>
<rect x="171.58" y="476.20" width="11.13" height="7.85" fill="#f7b393"/>
<rect x="182.40" y="476.20" width="11.13" height="7.85" fill="#f19a78"/>
<rect x="193.23" y="476.20" width="11.13" height="7.85" fill="#f8f9f9"/>
<rect x="204.06" y="476.20" width="11.13" height="7.85" fill="#c5dfed"/>
<rect x="214.88" y="476.20" width="11.13" height="7.85" fill="#fde5da"/>
<rect x="225.71" y="476.20" width="11.13" height="7.85" fill="#dbeaf4"/>
<rect x="236.54" y="476.20" width="11.13" height="7.85" fill="#c5dfed"/>
<rect x="247.37" y="476.20" width="11.13" height="7.85" fill="#fde5da"/>
<rect x="258.19" y="476.20" width="11.13" height="7.85" fill="#dbeaf4"/>
<rect x="269.02" y="476.20" width="11.13" height="7.85" fill="#c5dfed"/>
<rect x="279.85" y="476.20" width="11.13" height="7.85" fill="#dbeaf4"/>
<rect x="290.67" y="476.20" width="11.13" height="7.85" fill="#dbeaf4"/>
<rect x="20.00" y="483.75" width="11.13" height="7.85" fill="#dbeaf4"/>
<rect x="30.83" y="483.75" width="11.13" height="7.85" fill="#dbeaf4"/>
<rect x="41.65" y="483.75" width="11.13" height="7.85" fill="#dbeaf4"/>
<rect x="52.48" y="483.75" width="11.13" height="7.85" fill="#f7b393"/>
<rect x="63.31" y="483.75" width="11.13" height="7.85" fill="#fbd3c0"/>
<rect x="74.13" y="483.75" width="11.13" height="7.85" fill="#d24a42"/>
<rect x="84.96" y="483.75" width="11.13" height="7.85" fill="#fde5da"/>
<rect x="95.79" y="483.75" width="11.13" height="7.85" fill="#fde5da"/>
<rect x="106.62" y="483.75" width="11.13" height="7.85" fill="#fbd3c0"/>
<rect x="117.44" y="483.75" width="11.13" height="7.85" fill="#dbeaf4"/>
<rect x="128.27" y="483.75" width="11.13" height="7.85" fill="#fde5da"/>
<rect x="139.10" y="483.75" width="11.13" height="7.85" fill="#dbeaf4"/>
<rect x="149.92" y="483.75" width="11.13" height="7.85" fill="#f7b393"/>
<rect x="160.75" y="483.75" width="11.13" height="7.85" fill="#dbeaf4"/>
<rect x="171.58" y="483.75" width="11.13" height="7.85" fill="#dbeaf4"/>
<rect x="182.40" y="483.75" width="11.13" height="7.85" fill="#dbeaf4"/>
<rect x="193.23" y="483.75" width="11.13" height="7.85" fill="#dbeaf4"/>
<rect x="204.06" y="483.75" width="11.13" height="7.85" fill="#dbeaf4"/>
<rect x="214.88" y="483.75" width="11.13" height="7.85" fill="#dbeaf4"/>
<rect x="225.71" y="483.75" width="11.13" height="7.85" fill="#dbeaf4"/>
<rect x="236.54" y="483.75" width="11.13" height="7.85" fill="#dbeaf4"/>
<rect x="247.37" y="483.75" width="11.13" height="7.85" fill="#dbeaf4"/>
<rect x="258.19" y="483.75" width="11.13" height="7.85" fill="#f8f9f9"/>
<rect x="269.02" y="483.75" width="11.13" height="7.85" fill="#dbeaf4"/>
<rect x="279.85" y="483.75" width="11.13" height="7.85" fill="#dbeaf4"/>
<rect x="290.67" y="483.75" width="11.13" height="7.85" fill="#dbeaf4"/>
<rect x="20.00" y="491.30" width="11.13" height="7.85" fill="#dbeaf4"/>
<rect x="30.83" y="491.30" width="11.13" height="7.85" fill="#fbd3c0"/>
<rect x="41.65" y="491.30" width="11.13" height="7.85" fill="#f8f9f9"/>
<rect x="52.48" y="491.30" width="11.13" height="7.85" fill="#fbd3c0"/>
<rect x="63.31" y="491.30" width="11.13" height="7.85" fill="#f8f9f9"/>
<rect x="74.13" y="491.30" width="11.13" height="7.85" fill="#f7b393"/>
<rect x="84.96" y="491.30" width="11.13" height="7.85" fill="#f8f9f9"/>
<rect x="95.79" y="491.30" width="11.13" height="7.85" fill="#e5705a"/>
<rect x="106.62" y="491.30" width="11.13" height="7.85" fill="#f19a78"/>
<rect x="117.44" y="491.30" width="11.13" height="7.85" fill="#dbeaf4"/>
<rect x="128.27" y="491.30" width="11.13" height="7.85" fill="#f8f9f9"/>
<rect x="139.10" y="491.30" width="11.13" height="7.85" fill="#fde5da"/>
<rect x="149.92" y="491.30" width="11.13" height="7.85" fill="#f8f9f9"/>
<rect x="160.75" y="491.30" width="11.13" height="7.85" fill="#f8f9f9"/>
<rect x="171.58" y="491.30" width="11.13" height="7.85" fill="#dbeaf4"/>
<rect x="182.40" y="491.30" width="11.13" height="7.85" fill="#fde5da"/>
<rect x="193.23" y="491.30" width="11.13" height="7.85" fill="#dbeaf4"/>
<rect x="204.06" y="491.30" width="11.13" height="7.85" fill="#f8f9f9"/>
<rect x="214.88" y="491.30" width="11.13" height="7.85" fill="#dbeaf4"/>
<rect x="225.71" y="491.30" width="11.13" height="7.85" fill="#dbeaf4"/>
<rect x="236.54" y="491.30" width="11.13" height="7.85" fill="#dbeaf4"/>
<rect x="247.37" y="491.30" width="11.13" height="7.85" fill="#dbeaf4"/>
<rect x="258.19" y="491.30" width="11.13" height="7.85" fill="#dbeaf4"/>
<rect x="269.02" y="491.30" width="11.13" height="7.85" fill="#dbeaf4"/>
<rect x="279.85" y="491.30" width="11.13" height="7.85" fill="#c5dfed"/>
<rect x="290.67" y="491.30" width="11.13" height="7.85" fill="#dbeaf4"/>
<rect x="20.00" y="498.85" width="11.13" height="7.85" fill="#dbeaf4"/>
<rect x="30.83" y="498.85" width="11.13" height="7.85" fill="#a2cce3"/>
<rect x="41.65" y="498.85" width="11.13" height="7.85" fill="#f8f9f9"/>
<rect x="52.48" y="498.85" width="11.13" height="7.85" fill="#f8f9f9"/>
<rect x="63.31" y="498.85" width="11.13" height="7.85" fill="#fde5da"/>
<rect x="74.13" y="498.85" width="11.13" height="7.85" fill="#c5dfed"/>
<rect x="84.96" y="498.85" width="11.13" height="7.85" fill="#dbeaf4"/>
<rect x="95.79" y="498.85" width="11.13" height="7.85" fill="#dbeaf4"/>
<rect x="106.62" y="498.85" width="11.13" height="7.85" fill="#fde5da"/>
<rect x="117.44" y="498.85" width="11.13" height="7.85" fill="#dbeaf4"/>
<rect x="128.27" y="498.85" width="11.13" height="7.85" fill="#dbeaf4"/>
<rect x="139.10" y="498.85" width="11.13" height="7.85" fill="#f8f9f9"/>
<rect x="149.92" y="498.85" width="11.13" height="7.85" fill="#a2cce3"/>
<rect x="160.75" y="498.85" width="11.13" height="7.85" fill="#f8f9f9"/>
<rect x="171.58" y="498.85" width="11.13" height="7.85" fill="#fde5da"/>
<rect x="182.40" y="498.85" width="11.13" height="7.85" fill="#fde5da"/>
<rect x="193.23" y="498.85" width="11.13" height="7.85" fill="#fbd3c0"/>
<rect x="204.06" y="498.85" width="11.13" height="7.85" fill="#fbd3c0"/>
<rect x="214.88" y="498.85" width="11.13" height="7.85" fill="#f7b393"/>
<rect x="225.71" y="498.85" width="11.13" height="7.85" fill="#f19a78"/>
<rect x="236.54" y="498.85" width="11.13" height="7.85" fill="#f7b393"/>
<rect x="247.37" y="498.85" width="11.13" height="7.85" fill="#a2cce3"/>
<rect x="258.19" y="498.85" width="11.13" height="7.85" fill="#fde5da"/>
<rect x="269.02" y="498.85" width="11.13" height="7.85" fill="#fde5da"/>
<rect x="279.85" y="498.85" width="11.13" height="7.85" fill="#fde5da"/>
<rect x="290.67" y="498.85" width="11.13" height="7.85" fill="#fde5da"/>
<rect x="20.00" y="506.40" width="11.13" height="7.85" fill="#a2cce3"/>
<rect x="30.83" y="506.40" width="11.13" height="7.85" fill="#f8f9f9"/>
<rect x="41.65" y="506.40" width="11.13" height="7.85" fill="#fde5da"/>
<rect x="52.48" y="506.40" width="11.13" height="7.85" fill="#c5dfed"/>
<rect x="63.31" y="506.40" width="11.13" height="7.85" fill="#a2cce3"/>
<rect x="74.13" y="506.40" width="11.13" height="7.85" fill="#a2cce3"/>
<rect x="84.96" y="506.40" width="11.13" height="7.85" fill="#dbeaf4"/>
<rect x="95.79" y="506.40" width="11.13" height="7.85" fill="#fde5da"/>
<rect x="106.62" y="506.40" width="11.13" height="7.85" fill="#fde5da"/>
<rect x="117.44" y="506.40" width="11.13" height="7.85" fill="#f8f9f9"/>
<rect x="128.27" y="506.40" width="11.13" height="7.85" fill="#a2cce3"/>
<rect x="139.10" y="506.40" width="11.13" height="7.85" fill="#f8f9f9"/>
<rect x="149.92" y="506.40" width="11.13" height="7.85" fill="#fde5da"/>
<rect x="160.75" y="506.40" width="11.13" height="7.85" fill="#fde5da"/>
<rect x="171.58" y="506.40" width="11.13" height="7.85" fill="#fde5da"/>
<rect x="182.40" y="506.40" width="11.13" height="7.85" fill="#f8f9f9"/>
<rect x="193.23" y="506.40" width="11.13" height="7.85" fill="#fbd3c0"/>
<rect x="204.06" y="506.40" width="11.13" height="7.85" fill="#fde5da"/>
<rect x="214.88" y="506.40" width="11.13" height="7.85" fill="#fde5da"/>
<rect x="225.71" y="506.40" width="11.13" height="7.85" fill="#fde5da"/>
<rect x="236.54" y="506.40" width="11.13" height="7.85" fill="#fde5da"/>
<rect x="247.37" y="506.40" width="11.13" height="7.85" fill="#fbd3c0"/>
<rect x="258.19" y="506.40" width="11.13" height="7.85" fill="#fde5da"/>
<rect x="269.02" y="506.40" width="11.13" height="7.85" fill="#fde5da"/>
<rect x="279.85" y="506.40" width="11.13" height="7.85" fill="#fde5da"/>
<rect x="290.67" y="506.40" width="11.13" height="7.85" fill="#fde5da"/>
<rect x="20.00" y="513.95" width="11.13" height="7.85" fill="#c5dfed"/>
<rect x="30.83" y="513.95" width="11.13" height="7.85" fill="#dbeaf4"/>
<rect x="41.65" y="513.95" width="11.13" height="7.85" fill="#f8f9f9"/>
<rect x="52.48" y="513.95" width="11.13" height="7.85" fill="#dbeaf4"/>
<rect x="63.31" y="513.95" width="11.13" height="7.85" fill="#f8f9f9"/>
<rect x="74.13" y="513.95" width="11.13" height="7.85" fill="#f8f9f9"/>
<rect x="84.96" y="513.95" width="11.13" height="7.85" fill="#f7b393"/>
<rect x="95.79" y="513.95" width="11.13" height="7.85" fill="#dbeaf4"/>
<rect x="106.62" y="513.95" width="11.13" height="7.85" fill="#dbeaf4"/>
<rect x="117.44" y="513.95" width="11.13" height="7.85" fill="#dbeaf4"/>
<rect x="128.27" y="513.95" width="11.13" height="7.85" fill="#f8f9f9"/>
<rect x="139.10" y="513.95" width="11.13" height="7.85" fill="#fde5da"/>
<rect x="149.92" y="513.95" width="11.13" height="7.85" fill="#fde5da"/>
<rect x="160.75" y="513.95" width="11.13" height="7.85" fill="#c5dfed"/>
<rect x="171.58" y="513.95" width="11.13" height="7.85" fill="#f8f9f9"/>
<rect x="182.40" y="513.95" width="11.13" height="7.85" fill="#f8f9f9"/>
<rect x="193.23" y="513.95" width="11.13" height="7.85" fill="#fde5da"/>
<rect x="204.06" y="513.95" width="11.13" height="7.85" fill="#f7b393"/>
<rect x="214.88" y="513.95" width="11.13" height="7.85" fill="#f8f9f9"/>
<rect x="225.71" y="513.95" width="11.13" height="7.85" fill="#f8f9f9"/>
<rect x="236.54" y="513.95" width="11.13" height="7.85" fill="#fbd3c0"/>
<rect x="247.37" y="513.95" width="11.13" height="7.85" fill="#f7b393"/>
<rect x="258.19" y="513.95" width="11.13" height="7.85" fill="#e5705a"/>
<rect x="269.02" y="513.95" width="11.13" height="7.85" fill="#dbeaf4"/>
<rect x="279.85" y="513.95" width="11.13" height="7.85" fill="#f8f9f9"/>
<rect x="290.67" y="513.95" width="11.13" height="7.85" fill="#fbd3c0"/>
<rect x="20.00" y="521.50" width="11.13" height="7.85" fill="#dbeaf4"/>
<rect x="30.83" y="521.50" width="11.13" height="7.85" fill="#dbeaf4"/>
<rect x="41.65" y="521.50" width="11.13" height="7.85" fill="#dbeaf4"/>
<rect x="52.48" y="521.50" width="11.13" height="7.85" fill="#f8f9f9"/>
<rect x="63.31" y="521.50" width="11.13" height="7.85" fill="#fde5da"/>
<rect x="74.13" y="521.50" width="11.13" height="7.85" fill="#c5dfed"/>
<rect x="84.96" y="521.50" width="11.13" height="7.85" fill="#f8f9f9"/>
<rect x="95.79" y="521.50" width="11.13" height="7.85" fill="#f8f9f9"/>
<rect x="106.62" y="521.50" width="11.13" height="7.85" fill="#f8f9f9"/>
<rect x="117.44" y="521.50" width="11.13" height="7.85" fill="#f8f9f9"/>
<rect x="128.27" y="521.50" width="11.13" height="7.85" fill="#dbeaf4"/>
<rect x="139.10" y="521.50" width="11.13" height="7.85" fill="#c5dfed"/>
<rect x="149.92" y="521.50" width="11.13" height="7.85" fill="#c5dfed"/>
<rect x="160.75" y="521.50" width="11.13" height="7.85" fill="#f19a78"/>
<rect x="171.58" y="521.50" width="11.13" height="7.85" fill="#fde5da"/>
<rect x="182.40" y="521.50" width="11.13" height="7.85" fill="#fde5da"/>
<rect x="193.23" y="521.50" width="11.13" height="7.85" fill="#f8f9f9"/>
<rect x="204.06" y="521.50" width="11.13" height="7.85" fill="#e5705a"/>
<rect x="214.88" y="521.50" width="11.13" height="7.85" fill="#f8f9f9"/>
<rect x="225.71" y="521.50" width="11.13" height="7.85" fill="#f8f9f9"/>
<rect x="236.54" y="521.50" width="11.13" height="7.85" fill="#fbd3c0"/>
<rect x="247.37" y="521.50" width="11.13" height="7.85" fill="#f8f9f9"/>
<rect x="258.19" y="521.50" width="11.13" height="7.85" fill="#f7b393"/>
<rect x="269.02" y="521.50" width="11.13" height="7.85" fill="#c5dfed"/>
<rect x="279.85" y="521.50" width="11.13" height="7.85" fill="#c5dfed"/>
<rect x="290.67" y="521.50" width="11.13" height="7.85" fill="#fbd3c0"/>
<rect x="20.00" y="529.05" width="11.13" height="7.85" fill="#f8f9f9"/>
<rect x="30.83" y="529.05" width="11.13" height="7.85" fill="#f8f9f9"/>
<rect x="41.65" y="529.05" width="11.13" height="7.85" fill="#dbeaf4"/>
<rect x="52.48" y="529.05" width="11.13" height="7.85" fill="#fbd3c0"/>
<rect x="63.31" y="529.05" width="11.13" height="7.85" fill="#c5dfed"/>
<rect x="74.13" y="529.05" width="11.13" height="7.85" fill="#f8f9f9"/>
<rect x="84.96" y="529.05" width="11.13" height="7.85" fill="#fde5da"/>
<rect x="95.79" y="529.05" width="11.13" height="7.85" fill="#dbeaf4"/>
<rect x="106.62" y="529.05" width="11.13" height="7.85" fill="#dbeaf4"/>
<rect x="117.44" y="529.05" width="11.13" height="7.85" fill="#dbeaf4"/>
<rect x="128.27" y="529.05" width="11.13" height="7.85" fill="#f8f9f9"/>
<rect x="139.10" y="529.05" width="11.13" height="7.85" fill="#c5dfed"/>
<rect x="149.92" y="529.05" width="11.13" height="7.85" fill="#dbeaf4"/>
<rect x="160.75" y="529.05" width="11.13" height="7.85" fill="#f8f9f9"/>
<rect x="171.58" y="529.05" width="11.13" height="7.85" fill="#c5dfed"/>
<rect x="182.40" y="529.05" width="11.13" height="7.85" fill="#f8f9f9"/>
<rect x="193.23" y="529.05" width="11.13" height="7.85" fill="#fde5da"/>
<rect x="204.06" y="529.05" width="11.13" height="7.85" fill="#fde5da"/>
<rect x="214.88" y="529.05" width="11.13" height="7.85" fill="#dbeaf4"/>
<rect x="225.71" y="529.05" width="11.13" height="7.85" fill="#e5705a"/>
<rect x="236.54" y="529.05" width="11.13" height="7.85" fill="#f19a78"/>
<rect x="247.37" y="529.05" width="11.13" height="7.85" fill="#fde5da"/>
<rect x="258.19" y="529.05" width="11.13" height="7.85" fill="#f8f9f9"/>
<rect x="269.02" y="529.05" width="11.13" height="7.85" fill="#fde5da"/>
<rect x="279.85" y="529.05" width="11.13" height="7.85" fill="#fde5da"/>
<rect x="290.67" y="529.05" width="11.13" height="7.85" fill="#f8f9f9"/>
<rect x="20.00" y="536.60" width="11.13" height="7.85" fill="#dbeaf4"/>
<rect x="30.83" y="536.60" width="11.13" height="7.85" fill="#dbeaf4"/>
<rect x="41.65" y="536.60" width="11.13" height="7.85" fill="#dbeaf4"/>
<rect x="52.48" y="536.60" width="11.13" height="7.85" fill="#f8f9f9"/>
<rect x="63.31" y="536.60" width="11.13" height="7.85" fill="#dbeaf4"/>
<rect x="74.13" y="536.60" width="11.13" height="7.85" fill="#dbeaf4"/>
<rect x="84.96" y="536.60" width="11.13" height="7.85" fill="#f7b393"/>
<rect x="95.79" y="536.60" width="11.13" height="7.85" fill="#f8f9f9"/>
<rect x="106.62" y="536.60" width="11.13" height="7.85" fill="#fde5da"/>
<rect x="117.44" y="536.60" width="11.13" height="7.85" fill="#f8f9f9"/>
<rect x="128.27" y="536.60" width="11.13" height="7.85" fill="#c5dfed"/>
<rect x="139.10" y="536.60" width="11.13" height="7.85" fill="#c5dfed"/>
<rect x="149.92" y="536.60" width="11.13" height="7.85" fill="#f8f9f9"/>
<rect x="160.75" y="536.60" width="11.13" height="7.85" fill="#f8f9f9"/>
<rect x="171.58" y="536.60" width="11.13" height="7.85" fill="#c5dfed"/>
<rect x="182.40" y="536.60" width="11.13" height="7.85" fill="#f8f9f9"/>
<rect x="193.23" y="536.60" width="11.13" height="7.85" fill="#fde5da"/>
<rect x="204.06" y="536.60" width="11.13" height="7.85" fill="#fbd3c0"/>
<rect x="214.88" y="536.60" width="11.13" height="7.85" fill="#f8f9f9"/>
<rect x="225.71" y="536.60" width="11.13" height="7.85" fill="#f7b393"/>
<rect x="236.54" y="536.60" width="11.13" height="7.85" fill="#e5705a"/>
<rect x="247.37" y="536.60" width="11.13" height="7.85" fill="#fde5da"/>
<rect x="258.19" y="536.60" width="11.13" height="7.85" fill="#dbeaf4"/>
<rect x="269.02" y="536.60" width="11.13" height="7.85" fill="#fde5da"/>
<rect x="279.85" y="536.60" width="11.13" height="7.85" fill="#fde5da"/>
<rect x="290.67" y="536.60" width="11.13" height="7.85" fill="#fde5da"/>
<rect x="20.00" y="544.15" width="11.13" height="7.85" fill="#f8f9f9"/>
<rect x="30.83" y="544.15" width="11.13" height="7.85" fill="#f8f9f9"/>
<rect x="41.65" y="544.15" width="11.13" height="7.85" fill="#a2cce3"/>
<rect x="52.48" y="544.15" width="11.13" height="7.85" fill="#fbd3c0"/>
<rect x="63.31" y="544.15" width="11.13" height="7.85" fill="#fde5da"/>
<rect x="74.13" y="544.15" width="11.13" height="7.85" fill="#f8f9f9"/>
<rect x="84.96" y="544.15" width="11.13" height="7.85" fill="#c5dfed"/>
<rect x="95.79" y="544.15" width="11.13" height="7.85" fill="#a2cce3"/>
<rect x="106.62" y="544.15" width="11.13" height="7.85" fill="#f8f9f9"/>
<rect x="117.44" y="544.15" width="11.13" height="7.85" fill="#fbd3c0"/>
<rect x="128.27" y="544.15" width="11.13" height="7.85" fill="#dbeaf4"/>
<rect x="139.10" y="544.15" width="11.13" height="7.85" fill="#f8f9f9"/>
<rect x="149.92" y="544.15" width="11.13" height="7.85" fill="#f8f9f9"/>
<rect x="160.75" y="544.15" width="11.13" height="7.85" fill="#dbeaf4"/>
<rect x="171.58" y="544.15" width="11.13" height="7.85" fill="#c5dfed"/>
<rect x="182.40" y="544.15" width="11.13" height="7.85" fill="#dbeaf4"/>
<rect x="193.23" y="544.15" width="11.13" height="7.85" fill="#fbd3c0"/>
<rect x="204.06" y="544.15" width="11.13" height="7.85" fill="#f8f9f9"/>
<rect x="214.88" y="544.15" width="11.13" height="7.85" fill="#f8f9f9"/>
<rect x="225.71" y="544.15" width="11.13" height="7.85" fill="#f8f9f9"/>
<rect x="236.54" y="544.15" width="11.13" height="7.85" fill="#f19a78"/>
<rect x="247.37" y="544.15" width="11.13" height="7.85" fill="#f19a78"/>
<rect x="258.19" y="544.15" width="11.13" height="7.85" fill="#fde5da"/>
<rect x="269.02" y="544.15" width="11.13" height="7.85" fill="#fbd3c0"/>
<rect x="279.85" y="544.15" width="11.13" height="7.85" fill="#fde5da"/>
<rect x="290.67" y="544.15" width="11.13" height="7.85" fill="#f8f9f9"/>
<rect x="20.00" y="551.70" width="11.13" height="7.85" fill="#dbeaf4"/>
<rect x="30.83" y="551.70" width="11.13" height="7.85" fill="#c5dfed"/>
<rect x="41.65" y="551.70" width="11.13" height="7.85" fill="#dbeaf4"/>
<rect x="52.48" y="551.70" width="11.13" height="7.85" fill="#f8f9f9"/>
<rect x="63.31" y="551.70" width="11.13" height="7.85" fill="#dbeaf4"/>
<rect x="74.13" y="551.70" width="11.13" height="7.85" fill="#f8f9f9"/>
<rect x="84.96" y="551.70" width="11.13" height="7.85" fill="#f8f9f9"/>
<rect x="95.79" y="551.70" width="11.13" height="7.85" fill="#f8f9f9"/>
<rect x="106.62" y="551.70" width="11.13" height="7.85" fill="#fde5da"/>
<rect x="117.44" y="551.70" width="11.13" height="7.85" fill="#dbeaf4"/>
<rect x="128.27" y="551.70" width="11.13" height="7.85" fill="#dbeaf4"/>
<rect x="139.10" y="551.70" width="11.13" height="7.85" fill="#a2cce3"/>
<rect x="149.92" y="551.70" width="11.13" height="7.85" fill="#fde5da"/>
<rect x="160.75" y="551.70" width="11.13" height="7.85" fill="#f8f9f9"/>
<rect x="171.58" y="551.70" width="11.13" height="7.85" fill="#f8f9f9"/>
<rect x="182.40" y="551.70" width="11.13" height="7.85" fill="#f8f9f9"/>
<rect x="193.23" y="551.70" width="11.13" height="7.85" fill="#dbeaf4"/>
<rect x="204.06" y="551.70" width="11.13" height="7.85" fill="#dbeaf4"/>
<rect x="214.88" y="551.70" width="11.13" height="7.85" fill="#f7b393"/>
<rect x="225.71" y="551.70" width="11.13" height="7.85" fill="#f8f9f9"/>
<rect x="236.54" y="551.70" width="11.13" height="7.85" fill="#fde5da"/>
<rect x="247.37" y="551.70" width="11.13" height="7.85" fill="#f8f9f9"/>
<rect x="258.19" y="551.70" width="11.13" height="7.85" fill="#fde5da"/>
<rect x="269.02" y="551.70" width="11.13" height="7.85" fill="#f8f9f9"/>
<rect x="279.85" y="551.70" width="11.13" height="7.85" fill="#fbd3c0"/>
<rect x="290.67" y="551.70" width="11.13" height="7.85" fill="#d24a42"/>
<rect x="20.00" y="559.25" width="11.13" height="7.85" fill="#dbeaf4"/>
<rect x="30.83" y="559.25" width="11.13" height="7.85" fill="#f8f9f9"/>
<rect x="41.65" y="559.25" width="11.13" height="7.85" fill="#dbeaf4"/>
<rect x="52.48" y="559.25" width="11.13" height="7.85" fill="#f8f9f9"/>
<rect x="63.31" y="559.25" width="11.13" height="7.85" fill="#dbeaf4"/>
<rect x="74.13" y="559.25" width="11.13" height="7.85" fill="#dbeaf4"/>
<rect x="84.96" y="559.25" width="11.13" height="7.85" fill="#dbeaf4"/>
<rect x="95.79" y="559.25" width="11.13" height="7.85" fill="#dbeaf4"/>
<rect x="106.62" y="559.25" width="11.13" height="7.85" fill="#dbeaf4"/>
<rect x="117.44" y="559.25" width="11.13" height="7.85" fill="#dbeaf4"/>
<rect x="128.27" y="559.25" width="11.13" height="7.85" fill="#dbeaf4"/>
<rect x="139.10" y="559.25" width="11.13" height="7.85" fill="#dbeaf4"/>
<rect x="149.92" y="559.25" width="11.13" height="7.85" fill="#dbeaf4"/>
<rect x="160.75" y="559.25" width="11.13" height="7.85" fill="#f8f9f9"/>
<rect x="171.58" y="559.25" width="11.13" height="7.85" fill="#f7b393"/>
<rect x="182.40" y="559.25" width="11.13" height="7.85" fill="#f8f9f9"/>
<rect x="193.23" y="559.25" width="11.13" height="7.85" fill="#f8f9f9"/>
<rect x="204.06" y="559.25" width="11.13" height="7.85" fill="#dbeaf4"/>
<rect x="214.88" y="559.25" width="11.13" height="7.85" fill="#f8f9f9"/>
<rect x="225.71" y="559.25" width="11.13" height="7.85" fill="#dbeaf4"/>
<rect x="236.54" y="559.25" width="11.13" height="7.85" fill="#fbd3c0"/>
<rect x="247.37" y="559.25" width="11.13" height="7.85" fill="#f7b393"/>
<rect x="258.19" y="559.25" width="11.13" height="7.85" fill="#fbd3c0"/>
<rect x="269.02" y="559.25" width="11.13" height="7.85" fill="#e5705a"/>
<rect x="279.85" y="559.25" width="11.13" height="7.85" fill="#fbd3c0"/>
<rect x="290.67" y="559.25" width="11.13" height="7.85" fill="#f7b393"/>
<rect x="20.00" y="566.80" width="11.13" height="7.85" fill="#dbeaf4"/>
<rect x="30.83" y="566.80" width="11.13" height="7.85" fill="#a2cce3"/>
<rect x="41.65" y="566.80" width="11.13" height="7.85" fill="#f8f9f9"/>
<rect x="52.48" y="566.80" width="11.13" height="7.85" fill="#f8f9f9"/>
<rect x="63.31" y="566.80" width="11.13" height="7.85" fill="#f8f9f9"/>
<rect x="74.13" y="566.80" width="11.13" height="7.85" fill="#dbeaf4"/>
<rect x="84.96" y="566.80" width="11.13" height="7.85" fill="#fbd3c0"/>
<rect x="95.79" y="566.80" width="11.13" height="7.85" fill="#f8f9f9"/>
<rect x="106.62" y="566.80" width="11.13" height="7.85" fill="#fbd3c0"/>
<rect x="117.44" y="566.80" width="11.13" height="7.85" fill="#f8f9f9"/>
<rect x="128.27" y="566.80" width="11.13" height="7.85" fill="#f8f9f9"/>
<rect x="139.10" y="566.80" width="11.13" height="7.85" fill="#a2cce3"/>
<rect x="149.92" y="566.80" width="11.13" height="7.85" fill="#c5dfed"/>
<rect x="160.75" y="566.80" width="11.13" height="7.85" fill="#dbeaf4"/>
<rect x="171.58" y="566.80" width="11.13" height="7.85" fill="#fbd3c0"/>
<rect x="182.40" y="566.80" width="11.13" height="7.85" fill="#c5dfed"/>
<rect x="193.23" y="566.80" width="11.13" height="7.85" fill="#fde5da"/>
<rect x="204.06" y="566.80" width="11.13" height="7.85" fill="#fbd3c0"/>
<rect x="214.88" y="566.80" width="11.13" height="7.85" fill="#fde5da"/>
<rect x="225.71" y="566.80" width="11.13" height="7.85" fill="#dbeaf4"/>
<rect x="236.54" y="566.80" width="11.13" height="7.85" fill="#fde5da"/>
<rect x="247.37" y="566.80" width="11.13" height="7.85" fill="#fbd3c0"/>
<rect x="258.19" y="566.80" width="11.13" height="7.85" fill="#f7b393"/>
<rect x="269.02" y="566.80" width="11.13" height="7.85" fill="#f7b393"/>
<rect x="279.85" y="566.80" width="11.13" height="7.85" fill="#f8f9f9"/>
<rect x="290.67" y="566.80" width="11.13" height="7.85" fill="#f7b393"/>
<rect x="20.00" y="574.35" width="11.13" height="7.85" fill="#dbeaf4"/>
<rect x="30.83" y="574.35" width="11.13" height="7.85" fill="#a2cce3"/>
<rect x="41.65" y="574.35" width="11.13" height="7.85" fill="#f8f9f9"/>
<rect x="52.48" y="574.35" width="11.13" height="7.85" fill="#fbd3c0"/>
<rect x="63.31" y="574.35" width="11.13" height="7.85" fill="#f8f9f9"/>
<rect x="74.13" y="574.35" width="11.13" height="7.85" fill="#dbeaf4"/>
<rect x="84.96" y="574.35" width="11.13" height="7.85" fill="#fbd3c0"/>
<rect x="95.79" y="574.35" width="11.13" height="7.85" fill="#f8f9f9"/>
<rect x="106.62" y="574.35" width="11.13" height="7.85" fill="#fde5da"/>
<rect x="117.44" y="574.35" width="11.13" height="7.85" fill="#f8f9f9"/>
<rect x="128.27" y="574.35" width="11.13" height="7.85" fill="#f8f9f9"/>
<rect x="139.10" y="574.35" width="11.13" height="7.85" fill="#a2cce3"/>
<rect x="149.92" y="574.35" width="11.13" height="7.85" fill="#dbeaf4"/>
<rect x="160.75" y="574.35" width="11.13" height="7.85" fill="#f8f9f9"/>
<rect x="171.58" y="574.35" width="11.13" height="7.85" fill="#fde5da"/>
<rect x="182.40" y="574.35" width="11.13" height="7.85" fill="#c5dfed"/>
<rect x="193.23" y="574.35" width="11.13" height="7.85" fill="#f8f9f9"/>
<rect x="204.06" y="574.35" width="11.13" height="7.85" fill="#f8f9f9"/>
<rect x="214.88" y="574.35" width="11.13" height="7.85" fill="#fde5da"/>
<rect x="225.71" y="574.35" width="11.13" height="7.85" fill="#dbeaf4"/>
<rect x="236.54" y="574.35" width="11.13" height="7.85" fill="#fbd3c0"/>
<rect x="247.37" y="574.35" width="11.13" height="7.85" fill="#f7b393"/>
<rect x="258.19" y="574.35" width="11.13" height="7.85" fill="#fbd3c0"/>
<rect x="269.02" y="574.35" width="11.13" height="7.85" fill="#fbd3c0"/>
<rect x="279.85" y="574.35" width="11.13" height="7.85" fill="#fde5da"/>
<rect x="290.67" y="574.35" width="11.13" height="7.85" fill="#f7b393"/>
<rect x="20.00" y="581.90" width="11.13" height="7.85" fill="#f8f9f9"/>
<rect x="30.83" y="581.90" width="11.13" height="7.85" fill="#c5dfed"/>
<rect x="41.65" y="581.90" width="11.13" height="7.85" fill="#dbeaf4"/>
<rect x="52.48" y="581.90" width="11.13" height="7.85" fill="#fde5da"/>
<rect x="63.31" y="581.90" width="11.13" height="7.85" fill="#dbeaf4"/>
<rect x="74.13" y="581.90" width="11.13" height="7.85" fill="#f8f9f9"/>
<rect x="84.96" y="581.90" width="11.13" height="7.85" fill="#dbeaf4"/>
<rect x="95.79" y="581.90" width="11.13" height="7.85" fill="#f8f9f9"/>
<rect x="106.62" y="581.90" width="11.13" height="7.85" fill="#a2cce3"/>
<rect x="117.44" y="581.90" width="11.13" height="7.85" fill="#dbeaf4"/>
<rect x="128.27" y="581.90" width="11.13" height="7.85" fill="#f8f9f9"/>
<rect x="139.10" y="581.90" width="11.13" height="7.85" fill="#c5dfed"/>
<rect x="149.92" y="581.90" width="11.13" height="7.85" fill="#fbd3c0"/>
<rect x="160.75" y="581.90" width="11.13" height="7.85" fill="#c5dfed"/>
<rect x="171.58" y="581.90" width="11.13" height="7.85" fill="#dbeaf4"/>
<rect x="182.40" y="581.90" width="11.13" height="7.85" fill="#c5dfed"/>
<rect x="193.23" y="581.90" width="11.13" height="7.85" fill="#f7b393"/>
<rect x="204.06" y="581.90" width="11.13" height="7.85" fill="#f8f9f9"/>
<rect x="214.88" y="581.90" width="11.13" height="7.85" fill="#f19a78"/>
<rect x="225.71" y="581.90" width="11.13" height="7.85" fill="#f7b393"/>
<rect x="236.54" y="581.90" width="11.13" height="7.85" fill="#f8f9f9"/>
<rect x="247.37" y="581.90" width="11.13" height="7.85" fill="#f7b393"/>
<rect x="258.19" y="581.90" width="11.13" height="7.85" fill="#f8f9f9"/>
<rect x="269.02" y="581.90" width="11.13" height="7.85" fill="#fde5da"/>
<rect x="279.85" y="581.90" width="11.13" height="7.85" fill="#fde5da"/>
<rect x="290.67" y="581.90" width="11.13" height="7.85" fill="#f8f9f9"/>
<rect x="20.00" y="589.45" width="11.13" height="7.85" fill="#dbeaf4"/>
<rect x="30.83" y="589.45" width="11.13" height="7.85" fill="#dbeaf4"/>
<rect x="41.65" y="589.45" width="11.13" height="7.85" fill="#f8f9f9"/>
<rect x="52.48" y="589.45" width="11.13" height="7.85" fill="#fde5da"/>
<rect x="63.31" y="589.45" width="11.13" height="7.85" fill="#dbeaf4"/>
<rect x="74.13" y="589.45" width="11.13" height="7.85" fill="#fde5da"/>
<rect x="84.96" y="589.45" width="11.13" height="7.85" fill="#dbeaf4"/>
<rect x="95.79" y="589.45" width="11.13" height="7.85" fill="#f8f9f9"/>
<rect x="106.62" y="589.45" width="11.13" height="7.85" fill="#f8f9f9"/>
<rect x="117.44" y="589.45" width="11.13" height="7.85" fill="#f8f9f9"/>
<rect x="128.27" y="589.45" width="11.13" height="7.85" fill="#dbeaf4"/>
<rect x="139.10" y="589.45" width="11.13" height="7.85" fill="#c5dfed"/>
<rect x="149.92" y="589.45" width="11.13" height="7.85" fill="#fbd3c0"/>
<rect x="160.75" y="589.45" width="11.13" height="7.85" fill="#c5dfed"/>
<rect x="171.58" y="589.45" width="11.13" height="7.85" fill="#dbeaf4"/>
<rect x="182.40" y="589.45" width="11.13" height="7.85" fill="#dbeaf4"/>
<rect x="193.23" y="589.45" width="11.13" height="7.85" fill="#fde5da"/>
<rect x="204.06" y="589.45" width="11.13" height="7.85" fill="#f8f9f9"/>
<rect x="214.88" y="589.45" width="11.13" height="7.85" fill="#f19a78"/>
<rect x="225.71" y="589.45" width="11.13" height="7.85" fill="#fbd3c0"/>
<rect x="236.54" y="589.45" width="11.13" height="7.85" fill="#f7b393"/>
<rect x="247.37" y="589.45" width="11.13" height="7.85" fill="#fde5da"/>
<rect x="258.19" y="589.45" width="11.13" height="7.85" fill="#f8f9f9"/>
<rect x="269.02" y="589.45" width="11.13" height="7.85" fill="#fde5da"/>
<rect x="279.85" y="589.45" width="11.13" height="7.85" fill="#fde5da"/>
<rect x="290.67" y="589.45" width="11.13" height="7.85" fill="#fde5da"/>
<rect x="20.00" y="597.00" width="11.13" height="7.85" fill="#dbeaf4"/>
<rect x="30.83" y="597.00" width="11.13" height="7.85" fill="#dbeaf4"/>
<rect x="41.65" y="597.00" width="11.13" height="7.85" fill="#dbeaf4"/>
<rect x="52.48" y="597.00" width="11.13" height="7.85" fill="#dbeaf4"/>
<rect x="63.31" y="597.00" width="11.13" height="7.85" fill="#dbeaf4"/>
<rect x="74.13" y="597.00" width="11.13" height="7.85" fill="#f8f9f9"/>
<rect x="84.96" y="597.00" width="11.13" height="7.85" fill="#dbeaf4"/>
<rect x="95.79" y="597.00" width="11.13" height="7.85" fill="#dbeaf4"/>
<rect x="106.62" y="597.00" width="11.13" height="7.85" fill="#f8f9f9"/>
<rect x="117.44" y="597.00" width="11.13" height="7.85" fill="#c5dfed"/>
<rect x="128.27" y="597.00" width="11.13" height="7.85" fill="#dbeaf4"/>
<rect x="139.10" y="597.00" width="11.13" height="7.85" fill="#c5dfed"/>
<rect x="149.92" y="597.00" width="11.13" height="7.85" fill="#f7b393"/>
<rect x="160.75" y="597.00" width="11.13" height="7.85" fill="#dbeaf4"/>
<rect x="171.58" y="597.00" width="11.13" height="7.85" fill="#dbeaf4"/>
<rect x="182.40" y="597.00" width="11.13" height="7.85" fill="#dbeaf4"/>
<rect x="193.23" y="597.00" width="11.13" height="7.85" fill="#fbd3c0"/>
<rect x="204.06" y="597.00" width="11.13" height="7.85" fill="#dbeaf4"/>
<rect x="214.88" y="597.00" width="11.13" height="7.85" fill="#fbd3c0"/>
<rect x="225.71" y="597.00" width="11.13" height="7.85" fill="#f7b393"/>
<rect x="236.54" y="597.00" width="11.13" height="7.85" fill="#f7b393"/>
<rect x="247.37" y="597.00" width="11.13" height="7.85" fill="#fde5da"/>
<rect x="258.19" y="597.00" width="11.13" height="7.85" fill="#fbd3c0"/>
<rect x="269.02" y="597.00" width="11.13" height="7.85" fill="#fde5da"/>
<rect x="279.85" y="597.00" width="11.13" height="7.85" fill="#fbd3c0"/>
<rect x="290.67" y="597.00" width="11.13" height="7.85" fill="#fbd3c0"/>
<rect x="20.00" y="604.55" width="11.13" height="7.85" fill="#dbeaf4"/>
<rect x="30.83" y="604.55" width="11.13" height="7.85" fill="#dbeaf4"/>
<rect x="41.65" y="604.55" width="11.13" height="7.85" fill="#dbeaf4"/>
<rect x="52.48" y="604.55" width="11.13" height="7.85" fill="#f8f9f9"/>
<rect x="63.31" y="604.55" width="11.13" height="7.85" fill="#dbeaf4"/>
<rect x="74.13" y="604.55" width="11.13" height="7.85" fill="#f8f9f9"/>
<rect x="84.96" y="604.55" width="11.13" height="7.85" fill="#dbeaf4"/>
<rect x="95.79" y="604.55" width="11.13" height="7.85" fill="#dbeaf4"/>
<rect x="106.62" y="604.55" width="11.13" height="7.85" fill="#f8f9f9"/>
<rect x="117.44" y="604.55" width="11.13" height="7.85" fill="#c5dfed"/>
<rect x="128.27" y="604.55" width="11.13" height="7.85" fill="#dbeaf4"/>
<rect x="139.10" y="604.55" width="11.13" height="7.85" fill="#c5dfed"/>
<rect x="149.92" y="604.55" width="11.13" height="7.85" fill="#fde5da"/>
<rect x="160.75" y="604.55" width="11.13" height="7.85" fill="#dbeaf4"/>
<rect x="171.58" y="604.55" width="11.13" height="7.85" fill="#f8f9f9"/>
<rect x="182.40" y="604.55" width="11.13" height="7.85" fill="#dbeaf4"/>
<rect x="193.23" y="604.55" width="11.13" height="7.85" fill="#fde5da"/>
<rect x="204.06" y="604.55" width="11.13" height="7.85" fill="#f8f9f9"/>
<rect x="214.88" y="604.55" width="11.13" height="7.85" fill="#f19a78"/>
<rect x="225.71" y="604.55" width="11.13" height="7.85" fill="#f7b393"/>
<rect x="236.54" y="604.55" width="11.13" height="7.85" fill="#fde5da"/>
<rect x="247.37" y="604.55" width="11.13" height="7.85" fill="#f7b393"/>
<rect x="258.19" y="604.55" width="11.13" height="7.85" fill="#f7b393"/>
<rect x="269.02" y="604.55" width="11.13" height="7.85" fill="#f8f9f9"/>
<rect x="279.85" y="604.55" width="11.13" height="7.85" fill="#fbd3c0"/>
<rect x="290.67" y="604.55" width="11.13" height="7.85" fill="#fbd3c0"/>
<rect x="20.00" y="612.10" width="11.13" height="7.85" fill="#dbeaf4"/>
<rect x="30.83" y="612.10" width="11.13" height="7.85" fill="#c5dfed"/>
<rect x="41.65" y="612.10" width="11.13" height="7.85" fill="#f8f9f9"/>
<rect x="52.48" y="612.10" width="11.13" height="7.85" fill="#f8f9f9"/>
<rect x="63.31" y="612.10" width="11.13" height="7.85" fill="#f8f9f9"/>
<rect x="74.13" y="612.10" width="11.13" height="7.85" fill="#f8f9f9"/>
<rect x="84.96" y="612.10" width="11.13" height="7.85" fill="#f8f9f9"/>
<rect x="95.79" y="612.10" width="11.13" height="7.85" fill="#fde5da"/>
<rect x="106.62" y="612.10" width="11.13" height="7.85" fill="#a2cce3"/>
<rect x="117.44" y="612.10" width="11.13" height="7.85" fill="#fde5da"/>
<rect x="128.27" y="612.10" width="11.13" height="7.85" fill="#dbeaf4"/>
<rect x="139.10" y="612.10" width="11.13" height="7.85" fill="#c5dfed"/>
<rect x="149.92" y="612.10" width="11.13" height="7.85" fill="#f8f9f9"/>
<rect x="160.75" y="612.10" width="11.13" height="7.85" fill="#c5dfed"/>
<rect x="171.58" y="612.10" width="11.13" height="7.85" fill="#a2cce3"/>
<rect x="182.40" y="612.10" width="11.13" height="7.85" fill="#f8f9f9"/>
<rect x="193.23" y="612.10" width="11.13" height="7.85" fill="#f19a78"/>
<rect x="204.06" y="612.10" width="11.13" height="7.85" fill="#c5dfed"/>
<rect x="214.88" y="612.10" width="11.13" height="7.85" fill="#fbd3c0"/>
<rect x="225.71" y="612.10" width="11.13" height="7.85" fill="#f7b393"/>
<rect x="236.54" y="612.10" width="11.13" height="7.85" fill="#f19a78"/>
<rect x="247.37" y="612.10" width="11.13" height="7.85" fill="#f8f9f9"/>
<rect x="258.19" y="612.10" width="11.13" height="7.85" fill="#fbd3c0"/>
<rect x="269.02" y="612.10" width="11.13" height="7.85" fill="#fde5da"/>
<rect x="279.85" y="612.10" width="11.13" height="7.85" fill="#f8f9f9"/>
<rect x="290.67" y="612.10" width="11.13" height="7.85" fill="#fde5da"/>
<rect x="20.00" y="619.65" width="11.13" height="7.85" fill="#f8f9f9"/>
<rect x="30.83" y="619.65" width="11.13" height="7.85" fill="#c5dfed"/>
<rect x="41.65" y="619.65" width="11.13" height="7.85" fill="#dbeaf4"/>
<rect x="52.48" y="619.65" width="11.13" height="7.85" fill="#f8f9f9"/>
<rect x="63.31" y="619.65" width="11.13" height="7.85" fill="#dbeaf4"/>
<rect x="74.13" y="619.65" width="11.13" height="7.85" fill="#dbeaf4"/>
<rect x="84.96" y="619.65" width="11.13" height="7.85" fill="#dbeaf4"/>
<rect x="95.79" y="619.65" width="11.13" height="7.85" fill="#dbeaf4"/>
<rect x="106.62" y="619.65" width="11.13" height="7.85" fill="#dbeaf4"/>
<rect x="117.44" y="619.65" width="11.13" height="7.85" fill="#f8f9f9"/>
<rect x="128.27" y="619.65" width="11.13" height="7.85" fill="#c5dfed"/>
<rect x="139.10" y="619.65" width="11.13" height="7.85" fill="#c5dfed"/>
<rect x="149.92" y="619.65" width="11.13" height="7.85" fill="#e5705a"/>
<rect x="160.75" y="619.65" width="11.13" height="7.85" fill="#dbeaf4"/>
<rect x="171.58" y="619.65" width="11.13" height="7.85" fill="#dbeaf4"/>
<rect x="182.40" y="619.65" width="11.13" height="7.85" fill="#dbeaf4"/>
<rect x="193.23" y="619.65" width="11.13" height="7.85" fill="#fbd3c0"/>
<rect x="204.06" y="619.65" width="11.13" height="7.85" fill="#f8f9f9"/>
<rect x="214.88" y="619.65" width="11.13" height="7.85" fill="#f19a78"/>
<rect x="225.71" y="619.65" width="11.13" height="7.85" fill="#fbd3c0"/>
<rect x="236.54" y="619.65" width="11.13" height="7.85" fill="#f8f9f9"/>
<rect x="247.37" y="619.65" width="11.13" height="7.85" fill="#f7b393"/>
<rect x="258.19" y="619.65" width="11.13" height="7.85" fill="#fbd3c0"/>
<rect x="269.02" y="619.65" width="11.13" height="7.85" fill="#fde5da"/>
<rect x="279.85" y="619.65" width="11.13" height="7.85" fill="#fbd3c0"/>
<rect x="290.67" y="619.65" width="11.13" height="7.85" fill="#fde5da"/>
<rect x="20.00" y="627.20" width="11.13" height="7.85" fill="#dbeaf4"/>
<rect x="30.83" y="627.20" width="11.13" height="7.85" fill="#dbeaf4"/>
<rect x="41.65" y="627.20" width="11.13" height="7.85" fill="#dbeaf4"/>
<rect x="52.48" y="627.20" width="11.13" height="7.85" fill="#f8f9f9"/>
<rect x="63.31" y="627.20" width="11.13" height="7.85" fill="#dbeaf4"/>
<rect x="74.13" y="627.20" width="11.13" height="7.85" fill="#dbeaf4"/>
<rect x="84.96" y="627.20" width="11.13" height="7.85" fill="#dbeaf4"/>
<rect x="95.79" y="627.20" width="11.13" height="7.85" fill="#dbeaf4"/>
<rect x="106.62" y="627.20" width="11.13" height="7.85" fill="#dbeaf4"/>
<rect x="117.44" y="627.20" width="11.13" height="7.85" fill="#f8f9f9"/>
<rect x="128.27" y="627.20" width="11.13" height="7.85" fill="#c5dfed"/>
<rect x="139.10" y="627.20" width="11.13" height="7.85" fill="#c5dfed"/>
<rect x="149.92" y="627.20" width="11.13" height="7.85" fill="#f19a78"/>
<rect x="160.75" y="627.20" width="11.13" height="7.85" fill="#dbeaf4"/>
<rect x="171.58" y="627.20" width="11.13" height="7.85" fill="#dbeaf4"/>
<rect x="182.40" y="627.20" width="11.13" height="7.85" fill="#dbeaf4"/>
<rect x="193.23" y="627.20" width="11.13" height="7.85" fill="#fbd3c0"/>
<rect x="204.06" y="627.20" width="11.13" height="7.85" fill="#f8f9f9"/>
<rect x="214.88" y="627.20" width="11.13" height="7.85" fill="#f19a78"/>
<rect x="225.71" y="627.20" width="11.13" height="7.85" fill="#fbd3c0"/>
<rect x="236.54" y="627.20" width="11.13" height="7.85" fill="#f8f9f9"/>
<rect x="247.37" y="627.20" width="11.13" height="7.85" fill="#f7b393"/>
<rect x="258.19" y="627.20" width="11.13" height="7.85" fill="#fbd3c0"/>
<rect x="269.02" y="627.20" width="11.13" height="7.85" fill="#fde5da"/>
<rect x="279.85" y="627.20" width="11.13" height="7.85" fill="#fbd3c0"/>
<rect x="290.67" y="627.20" width="11.13" height="7.85" fill="#fde5da"/>
<rect x="20.00" y="634.75" width="11.13" height="7.85" fill="#dbeaf4"/>
<rect x="30.83" y="634.75" width="11.13" height="7.85" fill="#dbeaf4"/>
<rect x="41.65" y="634.75" width="11.13" height="7.85" fill="#dbeaf4"/>
<rect x="52.48" y="634.75" width="11.13" height="7.85" fill="#dbeaf4"/>
<rect x="63.31" y="634.75" width="11.13" height="7.85" fill="#c5dfed"/>
<rect x="74.13" y="634.75" width="11.13" height="7.85" fill="#f8f9f9"/>
<rect x="84.96" y="634.75" width="11.13" height="7.85" fill="#f8f9f9"/>
<rect x="95.79" y="634.75" width="11.13" height="7.85" fill="#f8f9f9"/>
<rect x="106.62" y="634.75" width="11.13" height="7.85" fill="#dbeaf4"/>
<rect x="117.44" y="634.75" width="11.13" height="7.85" fill="#f8f9f9"/>
<rect x="128.27" y="634.75" width="11.13" height="7.85" fill="#f8f9f9"/>
<rect x="139.10" y="634.75" width="11.13" height="7.85" fill="#dbeaf4"/>
<rect x="149.92" y="634.75" width="11.13" height="7.85" fill="#fde5da"/>
<rect x="160.75" y="634.75" width="11.13" height="7.85" fill="#dbeaf4"/>
<rect x="171.58" y="634.75" width="11.13" height="7.85" fill="#dbeaf4"/>
<rect x="182.40" y="634.75" width="11.13" height="7.85" fill="#dbeaf4"/>
<rect x="193.23" y="634.75" width="11.13" height="7.85" fill="#f19a78"/>
<rect x="204.06" y="634.75" width="11.13" height="7.85" fill="#f8f9f9"/>
<rect x="214.88" y="634.75" width="11.13" height="7.85" fill="#e5705a"/>
<rect x="225.71" y="634.75" width="11.13" height="7.85" fill="#f8f9f9"/>
<rect x="236.54" y="634.75" width="11.13" height="7.85" fill="#f8f9f9"/>
<rect x="247.37" y="634.75" width="11.13" height="7.85" fill="#fde5da"/>
<rect x="258.19" y="634.75" width="11.13" height="7.85" fill="#fde5da"/>
<rect x="269.02" y="634.75" width="11.13" height="7.85" fill="#f7b393"/>
<rect x="279.85" y="634.75" width="11.13" height="7.85" fill="#f19a78"/>
<rect x="290.67" y="634.75" width="11.13" height="7.85" fill="#f8f9f9"/>
<rect x="20.00" y="642.30" width="11.13" height="7.85" fill="#c5dfed"/>
<rect x="30.83" y="642.30" width="11.13" height="7.85" fill="#fbd3c0"/>
<rect x="41.65" y="642.30" width="11.13" height="7.85" fill="#f8f9f9"/>
<rect x="52.48" y="642.30" width="11.13" height="7.85" fill="#dbeaf4"/>
<rect x="63.31" y="642.30" width="11.13" height="7.85" fill="#f8f9f9"/>
<rect x="74.13" y="642.30" width="11.13" height="7.85" fill="#fde5da"/>
<rect x="84.96" y="642.30" width="11.13" height="7.85" fill="#c5dfed"/>
<rect x="95.79" y="642.30" width="11.13" height="7.85" fill="#f8f9f9"/>
<rect x="106.62" y="642.30" width="11.13" height="7.85" fill="#dbeaf4"/>
<rect x="117.44" y="642.30" width="11.13" height="7.85" fill="#c5dfed"/>
<rect x="128.27" y="642.30" width="11.13" height="7.85" fill="#f8f9f9"/>
<rect x="139.10" y="642.30" width="11.13" height="7.85" fill="#c5dfed"/>
<rect x="149.92" y="642.30" width="11.13" height="7.85" fill="#dbeaf4"/>
<rect x="160.75" y="642.30" width="11.13" height="7.85" fill="#dbeaf4"/>
<rect x="171.58" y="642.30" width="11.13" height="7.85" fill="#c5dfed"/>
<rect x="182.40" y="642.30" width="11.13" height="7.85" fill="#f8f9f9"/>
<rect x="193.23" y="642.30" width="11.13" height="7.85" fill="#d24a42"/>
<rect x="204.06" y="642.30" width="11.13" height="7.85" fill="#f8f9f9"/>
<rect x="214.88" y="642.30" width="11.13" height="7.85" fill="#fbd3c0"/>
<rect x="225.71" y="642.30" width="11.13" height="7.85" fill="#fde5da"/>
<rect x="236.54" y="642.30" width="11.13" height="7.85" fill="#fbd3c0"/>
<rect x="247.37" y="642.30" width="11.13" height="7.85" fill="#fde5da"/>
<rect x="258.19" y="642.30" width="11.13" height="7.85" fill="#fde5da"/>
<rect x="269.02" y="642.30" width="11.13" height="7.85" fill="#fbd3c0"/>
<rect x="279.85" y="642.30" width="11.13" height="7.85" fill="#fbd3c0"/>
<rect x="290.67" y="642.30" width="11.13" height="7.85" fill="#f8f9f9"/>
<rect x="20.00" y="649.85" width="11.13" height="7.85" fill="#fbd3c0"/>
<rect x="30.83" y="649.85" width="11.13" height="7.85" fill="#dbeaf4"/>
<rect x="41.65" y="649.85" width="11.13" height="7.85" fill="#f8f9f9"/>
<rect x="52.48" y="649.85" width="11.13" height="7.85" fill="#fde5da"/>
<rect x="63.31" y="649.85" width="11.13" height="7.85" fill="#c5dfed"/>
<rect x="74.13" y="649.85" width="11.13" height="7.85" fill="#dbeaf4"/>
<rect x="84.96" y="649.85" width="11.13" height="7.85" fill="#fbd3c0"/>
<rect x="95.79" y="649.85" width="11.13" height="7.85" fill="#c5dfed"/>
<rect x="106.62" y="649.85" width="11.13" height="7.85" fill="#dbeaf4"/>
<rect x="117.44" y="649.85" width="11.13" height="7.85" fill="#c5dfed"/>
<rect x="128.27" y="649.85" width="11.13" height="7.85" fill="#c5dfed"/>
<rect x="139.10" y="649.85" width="11.13" height="7.85" fill="#f8f9f9"/>
<rect x="149.92" y="649.85" width="11.13" height="7.85" fill="#f8f9f9"/>
<rect x="160.75" y="649.85" width="11.13" height="7.85" fill="#f8f9f9"/>
<rect x="171.58" y="649.85" width="11.13" height="7.85" fill="#f8f9f9"/>
<rect x="182.40" y="649.85" width="11.13" height="7.85" fill="#f8f9f9"/>
<rect x="193.23" y="649.85" width="11.13" height="7.85" fill="#f7b393"/>
<rect x="204.06" y="649.85" width="11.13" height="7.85" fill="#f8f9f9"/>
<rect x="214.88" y="649.85" width="11.13" height="7.85" fill="#fbd3c0"/>
<rect x="225.71" y="649.85" width="11.13" height="7.85" fill="#fbd3c0"/>
<rect x="236.54" y="649.85" width="11.13" height="7.85" fill="#dbeaf4"/>
<rect x="247.37" y="649.85" width="11.13" height="7.85" fill="#f7b393"/>
<rect x="258.19" y="649.85" width="11.13" height="7.85" fill="#fde5da"/>
<rect x="269.02" y="649.85" width="11.13" height="7.85" fill="#fbd3c0"/>
<rect x="279.85" y="649.85" width="11.13" height="7.85" fill="#e5705a"/>
<rect x="290.67" y="649.85" width="11.13" height="7.85" fill="#dbeaf4"/>
<rect x="20.00" y="657.40" width="11.13" height="7.85" fill="#dbeaf4"/>
<rect x="30.83" y="657.40" width="11.13" height="7.85" fill="#f8f9f9"/>
<rect x="41.65" y="657.40" width="11.13" height="7.85" fill="#c5dfed"/>
<rect x="52.48" y="657.40" width="11.13" height="7.85" fill="#dbeaf4"/>
<rect x="63.31" y="657.40" width="11.13" height="7.85" fill="#c5dfed"/>
<rect x="74.13" y="657.40" width="11.13" height="7.85" fill="#f8f9f9"/>
<rect x="84.96" y="657.40" width="11.13" height="7.85" fill="#dbeaf4"/>
<rect x="95.79" y="657.40" width="11.13" height="7.85" fill="#c5dfed"/>
<rect x="106.62" y="657.40" width="11.13" height="7.85" fill="#dbeaf4"/>
<rect x="117.44" y="657.40" width="11.13" height="7.85" fill="#fde5da"/>
<rect x="128.27" y="657.40" width="11.13" height="7.85" fill="#fbd3c0"/>
<rect x="139.10" y="657.40" width="11.13" height="7.85" fill="#f8f9f9"/>
<rect x="149.92" y="657.40" width="11.13" height="7.85" fill="#c5dfed"/>
<rect x="160.75" y="657.40" width="11.13" height="7.85" fill="#fde5da"/>
<rect x="171.58" y="657.40" width="11.13" height="7.85" fill="#f8f9f9"/>
<rect x="182.40" y="657.40" width="11.13" height="7.85" fill="#f8f9f9"/>
<rect x="193.23" y="657.40" width="11.13" height="7.85" fill="#fbd3c0"/>
<rect x="204.06" y="657.40" width="11.13" height="7.85" fill="#fde5da"/>
<rect x="214.88" y="657.40" width="11.13" height="7.85" fill="#f19a78"/>
<rect x="225.71" y="657.40" width="11.13" height="7.85" fill="#fde5da"/>
<rect x="236.54" y="657.40" width="11.13" height="7.85" fill="#dbeaf4"/>
<rect x="247.37" y="657.40" width="11.13" height="7.85" fill="#e5705a"/>
<rect x="258.19" y="657.40" width="11.13" height="7.85" fill="#fde5da"/>
<rect x="269.02" y="657.40" width="11.13" height="7.85" fill="#fde5da"/>
<rect x="279.85" y="657.40" width="11.13" height="7.85" fill="#f8f9f9"/>
<rect x="290.67" y="657.40" width="11.13" height="7.85" fill="#dbeaf4"/>
<rect x="20.00" y="664.95" width="11.13" height="7.85" fill="#dbeaf4"/>
<rect x="30.83" y="664.95" width="11.13" height="7.85" fill="#f8f9f9"/>
<rect x="41.65" y="664.95" width="11.13" height="7.85" fill="#dbeaf4"/>
<rect x="52.48" y="664.95" width="11.13" height="7.85" fill="#dbeaf4"/>
<rect x="63.31" y="664.95" width="11.13" height="7.85" fill="#dbeaf4"/>
<rect x="74.13" y="664.95" width="11.13" height="7.85" fill="#dbeaf4"/>
<rect x="84.96" y="664.95" width="11.13" height="7.85" fill="#c5dfed"/>
<rect x="95.79" y="664.95" width="11.13" height="7.85" fill="#f8f9f9"/>
<rect x="106.62" y="664.95" width="11.13" height="7.85" fill="#c5dfed"/>
<rect x="117.44" y="664.95" width="11.13" height="7.85" fill="#f8f9f9"/>
<rect x="128.27" y="664.95" width="11.13" height="7.85" fill="#f8f9f9"/>
<rect x="139.10" y="664.95" width="11.13" height="7.85" fill="#c5dfed"/>
<rect x="149.92" y="664.95" width="11.13" height="7.85" fill="#fde5da"/>
<rect x="160.75" y="664.95" width="11.13" height="7.85" fill="#dbeaf4"/>
<rect x="171.58" y="664.95" width="11.13" height="7.85" fill="#f8f9f9"/>
<rect x="182.40" y="664.95" width="11.13" height="7.85" fill="#f8f9f9"/>
<rect x="193.23" y="664.95" width="11.13" height="7.85" fill="#fde5da"/>
<rect x="204.06" y="664.95" width="11.13" height="7.85" fill="#e5705a"/>
<rect x="214.88" y="664.95" width="11.13" height="7.85" fill="#fde5da"/>
<rect x="225.71" y="664.95" width="11.13" height="7.85" fill="#fde5da"/>
<rect x="236.54" y="664.95" width="11.13" height="7.85" fill="#fde5da"/>
<rect x="247.37" y="664.95" width="11.13" height="7.85" fill="#f7b393"/>
<rect x="258.19" y="664.95" width="11.13" height="7.85" fill="#f8f9f9"/>
<rect x="269.02" y="664.95" width="11.13" height="7.85" fill="#f7b393"/>
<rect x="279.85" y="664.95" width="11.13" height="7.85" fill="#f7b393"/>
<rect x="290.67" y="664.95" width="11.13" height="7.85" fill="#dbeaf4"/>
</g>
<g transform="translate(305.8 0) scale(0.948 1)">
<text x="0" y="301.92" style="font-size:7.7px">Glutamyl-Tryptophan</text>
<text x="0" y="309.47" style="font-size:7.7px">LysoPE(0:0/14:0)</text>
<text x="0" y="317.02" style="font-size:7.7px">Epoxyaflatoxin B1</text>
<text x="0" y="324.57" style="font-size:7.7px">Suberic acid</text>
<text x="0" y="332.12" style="font-size:7.7px">Azelaic acid</text>
<text x="0" y="339.67" style="font-size:7.7px">Isoleucyl-Tryptophan</text>
<text x="0" y="347.22" style="font-size:7.7px">Citicoline</text>
<text x="0" y="354.77" style="font-size:7.7px">Acetyl adenylate</text>
<text x="0" y="362.32" style="font-size:7.7px">Aldosterone</text>
<text x="0" y="369.87" style="font-size:7.7px">N-acetyl-O-acetylneuraminic acid</text>
<text x="0" y="377.42" style="font-size:7.7px">Decenoylcarnitine</text>
<text x="0" y="384.97" style="font-size:7.7px">Tryptophyl-Valine</text>
<text x="0" y="392.52" style="font-size:7.7px">SAICAR</text>
<text x="0" y="400.07" style="font-size:7.7px">Dideoxy-oxo-dTDP-D-glucose</text>
<text x="0" y="407.62" style="font-size:7.7px">Portulacaxanthin I</text>
<text x="0" y="415.17" style="font-size:7.7px">Oxotrihydroxy-leukotriene B4</text>
<text x="0" y="422.72" style="font-size:7.7px">Quinone</text>
<text x="0" y="430.27" style="font-size:7.7px">Phosphoserine</text>
<text x="0" y="437.82" style="font-size:7.7px">Dimethylaminopurine</text>
<text x="0" y="445.37" style="font-size:7.7px">Iodine</text>
<text x="0" y="452.92" style="font-size:7.7px">L-Glutamyl-taurine</text>
<text x="0" y="460.47" style="font-size:7.7px">Dihydroxy-oxopregnenoic acid</text>
<text x="0" y="468.02" style="font-size:7.7px">2,3-Diphosphoglyceric acid</text>
<text x="0" y="475.57" style="font-size:7.7px">Octenoylcarnitine</text>
<text x="0" y="483.12" style="font-size:7.7px">Glycyl-Phenylalanine</text>
<text x="0" y="490.67" style="font-size:7.7px">Cysteinyl-Tryptophan</text>
<text x="0" y="498.22" style="font-size:7.7px">Hydroxyphenylvaleric acid-O-glucuronide</text>
<text x="0" y="505.77" style="font-size:7.7px">Nervonic acid</text>
<text x="0" y="513.32" textLength="158.5" lengthAdjust="spacing" style="font-size:7.7px">DG(14:1(9Z)/20:5(5Z,8Z,11Z,14Z,17Z)/0:0)</text>
<text x="0" y="520.88" style="font-size:7.7px">Capryloylcholine</text>
<text x="0" y="528.42" style="font-size:7.7px">Phenylalanyl-Tyrosine</text>
<text x="0" y="535.97" style="font-size:7.7px">Imidazoleacetic acid</text>
<text x="0" y="543.52" style="font-size:7.7px">Inosine 2′,3′-cyclic phosphate</text>
<text x="0" y="551.07" style="font-size:7.7px">Epoxyeicosatrienoic acid</text>
<text x="0" y="558.62" style="font-size:7.7px">L-Carnitine</text>
<text x="0" y="566.17" style="font-size:7.7px">CMP-aminoethylphosphonate</text>
<text x="0" y="573.72" style="font-size:7.7px">N-Methylethanolaminium phosphate</text>
<text x="0" y="581.27" style="font-size:7.7px">Betaine</text>
<text x="0" y="588.82" style="font-size:7.7px">Glucosamine-1P</text>
<text x="0" y="596.38" style="font-size:7.7px">Creatine</text>
<text x="0" y="603.92" style="font-size:7.7px">L-Acetylcarnitine</text>
<text x="0" y="611.47" style="font-size:7.7px">Propionylcarnitine</text>
<text x="0" y="619.02" style="font-size:7.7px">Galactosylglycerol</text>
<text x="0" y="626.57" style="font-size:7.7px">2′-Deoxysepiapterin</text>
<text x="0" y="634.12" style="font-size:7.7px">N-Acetylgalactosamine</text>
<text x="0" y="641.67" style="font-size:7.7px">Methylthioadenosine</text>
<text x="0" y="649.22" style="font-size:7.7px">Ureidosuccinic acid</text>
<text x="0" y="656.77" style="font-size:7.7px">N(6)-Methyllysine</text>
<text x="0" y="664.32" textLength="127.4" lengthAdjust="spacing" style="font-size:7.7px">DG(15:0/18:4(6Z,9Z,12Z,15Z)/0:0)</text>
<text x="0" y="671.88" style="font-size:7.7px">Inosine</text>
</g>
<defs><linearGradient id="zg" x1="0" y1="1" x2="0" y2="0"><stop offset="0" stop-color="#9fcbe2"/><stop offset="0.17" stop-color="#d1e5f0"/><stop offset="0.349" stop-color="#f7f7f7"/><stop offset="0.52" stop-color="#fcdcc8"/><stop offset="0.67" stop-color="#f4a582"/><stop offset="0.85" stop-color="#dd6650"/><stop offset="1" stop-color="#bc1b2e"/></linearGradient></defs>
<text x="465.6" y="296.0" style="font-size:7.6px">Z-score</text>
<rect x="474.6" y="301.2" width="7.8" height="77.6" fill="url(#zg)" stroke="#333" stroke-width="0.8"/>
<text x="485.6" y="304.3" style="font-size:7.7px">4.1</text>
<text x="485.6" y="353.7" style="font-size:7.7px">0</text>
<text x="485.6" y="380.2" style="font-size:7.7px">−2.2</text>
<rect x="474.6" y="391.5" width="7.8" height="20.2" fill="#bdbdc1"/>
<rect x="474.6" y="411.7" width="7.8" height="20.2" fill="#c8102e"/>
<rect x="474.6" y="431.9" width="7.8" height="20.2" fill="#2aa6dc"/>
<rect x="474.6" y="391.5" width="7.8" height="60.6" fill="none" stroke="#333" stroke-width="0.8"/>
<text x="485.8" y="403.6" style="font-size:7.6px">HC</text>
<text x="485.8" y="423.1" style="font-size:7.6px">KCNN4</text>
<text x="485.8" y="442.4" style="font-size:7.6px">PIEZO1</text>
</svg><div id="frame"></div></body></html>
